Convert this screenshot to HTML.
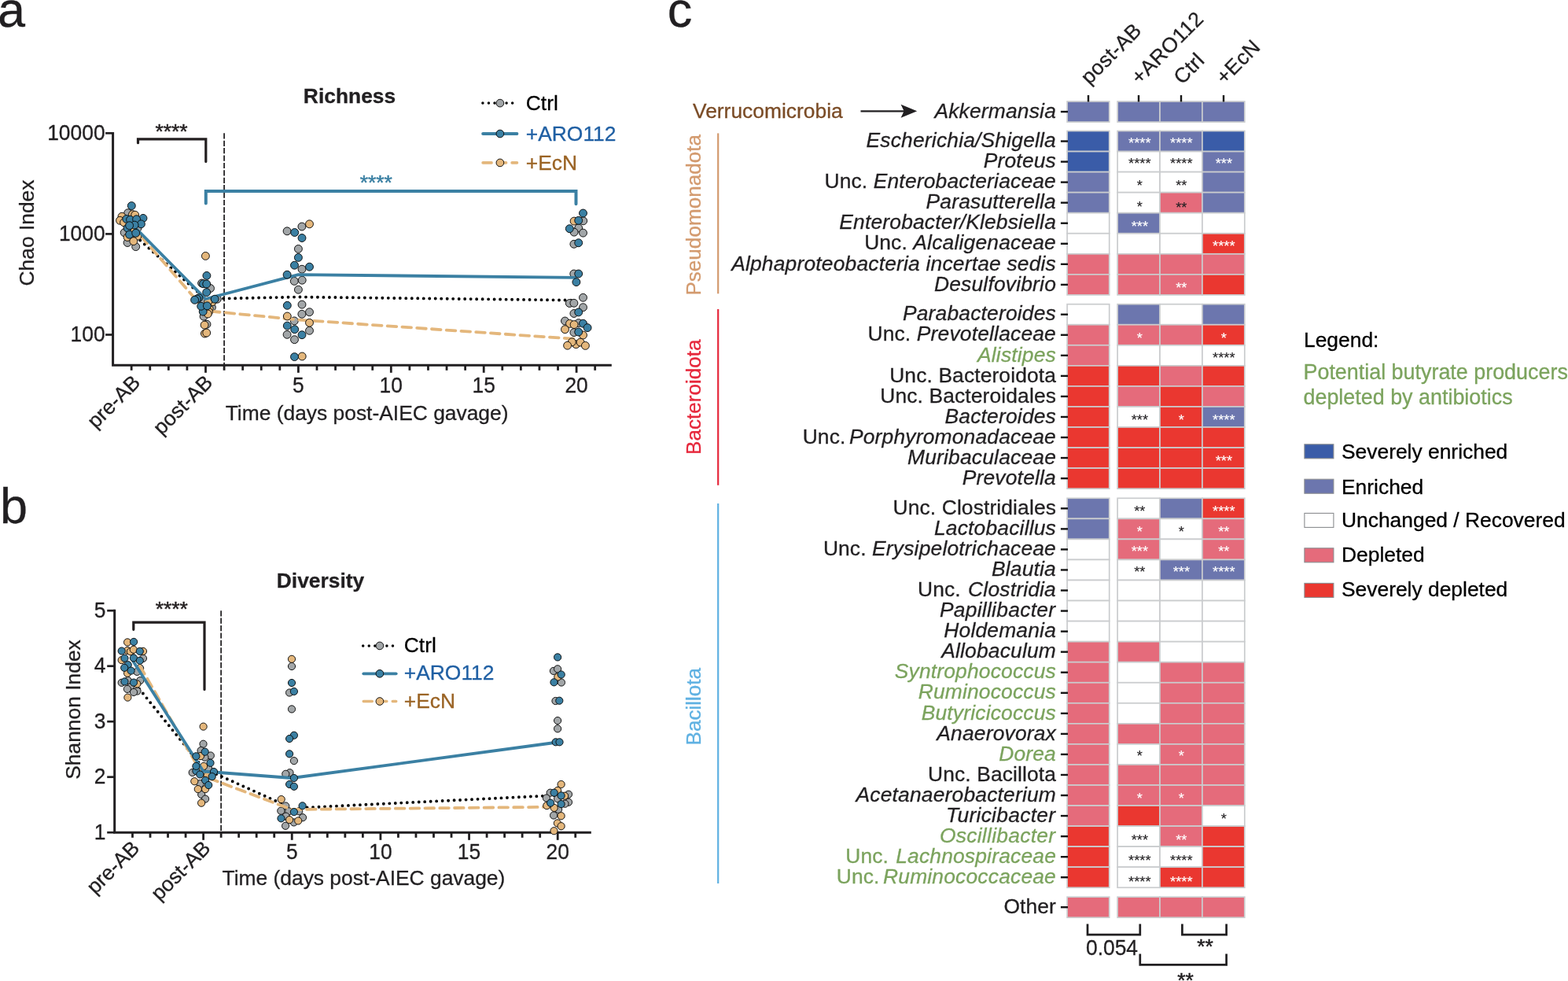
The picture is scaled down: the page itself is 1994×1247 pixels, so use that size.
<!DOCTYPE html>
<html lang="en">
<head>
<meta charset="utf-8">
<title>Figure: richness, diversity and taxa heatmap</title>
<style>
html,body{margin:0;padding:0;background:#fff;}
body{width:1994px;height:1247px;overflow:hidden;}
svg{display:block;font-family:"Liberation Sans",sans-serif;}
svg text{paint-order:stroke fill;}
svg text.t{stroke-width:0.3px;}
</style>
</head>
<body>
<svg width="1994" height="1247" viewBox="0 0 1994 1247" role="img" aria-label="Figure panels a, b and c">
<rect x="0" y="0" width="1994" height="1247" fill="#ffffff"/>
<text x="-3.00" y="33.50" font-size="63" fill="#211F21" class="t" stroke="#211F21">a</text>
<text x="0.00" y="665.00" font-size="63" fill="#211F21" class="t" stroke="#211F21">b</text>
<text x="848.70" y="33.50" font-size="63" fill="#211F21" class="t" stroke="#211F21">c</text>
<line x1="285.08" y1="169.30" x2="285.08" y2="464.20" stroke="#211F21" stroke-width="1.75" stroke-linecap="butt" stroke-dasharray="7.2 2.2"/>
<polyline points="143.60,167.90 143.60,464.20 777.80,464.20" fill="none" stroke="#211F21" stroke-width="3" stroke-linecap="butt" stroke-linejoin="miter"/>
<line x1="134.10" y1="169.30" x2="143.60" y2="169.30" stroke="#211F21" stroke-width="2.7" stroke-linecap="butt"/>
<text x="133.60" y="178.10" font-size="26.4" fill="#211F21" text-anchor="end" transform="matrix(1 0 0 1.055 0 -9.795)" class="t" stroke="#211F21">10000</text>
<line x1="134.10" y1="297.40" x2="143.60" y2="297.40" stroke="#211F21" stroke-width="2.7" stroke-linecap="butt"/>
<text x="133.60" y="306.20" font-size="26.4" fill="#211F21" text-anchor="end" transform="matrix(1 0 0 1.055 0 -16.841)" class="t" stroke="#211F21">1000</text>
<line x1="134.10" y1="425.50" x2="143.60" y2="425.50" stroke="#211F21" stroke-width="2.7" stroke-linecap="butt"/>
<text x="133.60" y="434.30" font-size="26.4" fill="#211F21" text-anchor="end" transform="matrix(1 0 0 1.055 0 -23.886)" class="t" stroke="#211F21">100</text>
<line x1="167.18" y1="464.20" x2="167.18" y2="470.80" stroke="#211F21" stroke-width="2.8" stroke-linecap="butt"/>
<line x1="190.76" y1="464.20" x2="190.76" y2="470.80" stroke="#211F21" stroke-width="2.8" stroke-linecap="butt"/>
<line x1="214.34" y1="464.20" x2="214.34" y2="470.80" stroke="#211F21" stroke-width="2.8" stroke-linecap="butt"/>
<line x1="237.92" y1="464.20" x2="237.92" y2="470.80" stroke="#211F21" stroke-width="2.8" stroke-linecap="butt"/>
<line x1="261.50" y1="464.20" x2="261.50" y2="473.80" stroke="#211F21" stroke-width="2.8" stroke-linecap="butt"/>
<line x1="285.08" y1="464.20" x2="285.08" y2="470.80" stroke="#211F21" stroke-width="2.8" stroke-linecap="butt"/>
<line x1="308.66" y1="464.20" x2="308.66" y2="470.80" stroke="#211F21" stroke-width="2.8" stroke-linecap="butt"/>
<line x1="332.24" y1="464.20" x2="332.24" y2="470.80" stroke="#211F21" stroke-width="2.8" stroke-linecap="butt"/>
<line x1="355.82" y1="464.20" x2="355.82" y2="470.80" stroke="#211F21" stroke-width="2.8" stroke-linecap="butt"/>
<line x1="379.40" y1="464.20" x2="379.40" y2="473.80" stroke="#211F21" stroke-width="2.8" stroke-linecap="butt"/>
<line x1="402.98" y1="464.20" x2="402.98" y2="470.80" stroke="#211F21" stroke-width="2.8" stroke-linecap="butt"/>
<line x1="426.56" y1="464.20" x2="426.56" y2="470.80" stroke="#211F21" stroke-width="2.8" stroke-linecap="butt"/>
<line x1="450.14" y1="464.20" x2="450.14" y2="470.80" stroke="#211F21" stroke-width="2.8" stroke-linecap="butt"/>
<line x1="473.72" y1="464.20" x2="473.72" y2="470.80" stroke="#211F21" stroke-width="2.8" stroke-linecap="butt"/>
<line x1="497.30" y1="464.20" x2="497.30" y2="473.80" stroke="#211F21" stroke-width="2.8" stroke-linecap="butt"/>
<line x1="520.88" y1="464.20" x2="520.88" y2="470.80" stroke="#211F21" stroke-width="2.8" stroke-linecap="butt"/>
<line x1="544.46" y1="464.20" x2="544.46" y2="470.80" stroke="#211F21" stroke-width="2.8" stroke-linecap="butt"/>
<line x1="568.04" y1="464.20" x2="568.04" y2="470.80" stroke="#211F21" stroke-width="2.8" stroke-linecap="butt"/>
<line x1="591.62" y1="464.20" x2="591.62" y2="470.80" stroke="#211F21" stroke-width="2.8" stroke-linecap="butt"/>
<line x1="615.20" y1="464.20" x2="615.20" y2="473.80" stroke="#211F21" stroke-width="2.8" stroke-linecap="butt"/>
<line x1="638.78" y1="464.20" x2="638.78" y2="470.80" stroke="#211F21" stroke-width="2.8" stroke-linecap="butt"/>
<line x1="662.36" y1="464.20" x2="662.36" y2="470.80" stroke="#211F21" stroke-width="2.8" stroke-linecap="butt"/>
<line x1="685.94" y1="464.20" x2="685.94" y2="470.80" stroke="#211F21" stroke-width="2.8" stroke-linecap="butt"/>
<line x1="709.52" y1="464.20" x2="709.52" y2="470.80" stroke="#211F21" stroke-width="2.8" stroke-linecap="butt"/>
<line x1="733.10" y1="464.20" x2="733.10" y2="473.80" stroke="#211F21" stroke-width="2.8" stroke-linecap="butt"/>
<line x1="756.68" y1="464.20" x2="756.68" y2="470.80" stroke="#211F21" stroke-width="2.8" stroke-linecap="butt"/>
<text x="379.40" y="498.90" font-size="26.4" fill="#211F21" text-anchor="middle" transform="matrix(1 0 0 1.03 0 -14.967)" class="t" stroke="#211F21">5</text>
<text x="497.30" y="498.90" font-size="26.4" fill="#211F21" text-anchor="middle" transform="matrix(1 0 0 1.03 0 -14.967)" class="t" stroke="#211F21">10</text>
<text x="615.20" y="498.90" font-size="26.4" fill="#211F21" text-anchor="middle" transform="matrix(1 0 0 1.03 0 -14.967)" class="t" stroke="#211F21">15</text>
<text x="733.10" y="498.90" font-size="26.4" fill="#211F21" text-anchor="middle" transform="matrix(1 0 0 1.03 0 -14.967)" class="t" stroke="#211F21">20</text>
<text x="179.88" y="487.70" font-size="26.4" fill="#211F21" text-anchor="end" transform="rotate(-45 179.88 487.70)" class="t" stroke="#211F21">pre-AB</text>
<text x="272.00" y="487.70" font-size="26.4" fill="#211F21" text-anchor="end" transform="rotate(-45 272.00 487.70)" class="t" stroke="#211F21">post-AB</text>
<text x="286.70" y="534.00" font-size="26.4" fill="#211F21" class="t" stroke="#211F21">Time (days post-AIEC gavage)</text>
<text x="43.30" y="296.00" font-size="26.4" fill="#211F21" text-anchor="middle" transform="rotate(-90 43.30 296.00)" class="t" stroke="#211F21">Chao Index</text>
<text x="444.50" y="131.00" font-size="26.4" fill="#211F21" text-anchor="middle" font-weight="bold" class="t" stroke="#211F21">Richness</text>
<line x1="167.20" y1="295.60" x2="261.50" y2="380.00" stroke="#000" stroke-width="3.9" stroke-linecap="round" stroke-dasharray="0 7.49" stroke-dashoffset="-7.35"/>
<line x1="261.50" y1="380.00" x2="379.40" y2="377.50" stroke="#000" stroke-width="3.9" stroke-linecap="round" stroke-dasharray="0 7.49" stroke-dashoffset="-0.21"/>
<line x1="379.40" y1="377.50" x2="733.10" y2="381.70" stroke="#000" stroke-width="3.9" stroke-linecap="round" stroke-dasharray="0 7.49" stroke-dashoffset="-2.06"/>
<circle cx="162.7" cy="270.7" r="4.95" fill="#A2A6A8" stroke="#0a0a0a" stroke-width="0.95"/>
<circle cx="158.2" cy="295.7" r="4.95" fill="#A2A6A8" stroke="#0a0a0a" stroke-width="0.95"/>
<circle cx="162.1" cy="308.5" r="4.95" fill="#A2A6A8" stroke="#0a0a0a" stroke-width="0.95"/>
<circle cx="172.7" cy="313.6" r="4.95" fill="#A2A6A8" stroke="#0a0a0a" stroke-width="0.95"/>
<circle cx="168.0" cy="300.0" r="4.95" fill="#A2A6A8" stroke="#0a0a0a" stroke-width="0.95"/>
<circle cx="175.0" cy="290.0" r="4.95" fill="#A2A6A8" stroke="#0a0a0a" stroke-width="0.95"/>
<circle cx="256.6" cy="360.0" r="4.95" fill="#A2A6A8" stroke="#0a0a0a" stroke-width="0.95"/>
<circle cx="267.5" cy="366.5" r="4.95" fill="#A2A6A8" stroke="#0a0a0a" stroke-width="0.95"/>
<circle cx="276.3" cy="380.2" r="4.95" fill="#A2A6A8" stroke="#0a0a0a" stroke-width="0.95"/>
<circle cx="258.5" cy="382.4" r="4.95" fill="#A2A6A8" stroke="#0a0a0a" stroke-width="0.95"/>
<circle cx="269.4" cy="390.7" r="4.95" fill="#A2A6A8" stroke="#0a0a0a" stroke-width="0.95"/>
<circle cx="259.1" cy="402.2" r="4.95" fill="#A2A6A8" stroke="#0a0a0a" stroke-width="0.95"/>
<circle cx="263.0" cy="412.2" r="4.95" fill="#A2A6A8" stroke="#0a0a0a" stroke-width="0.95"/>
<circle cx="383.9" cy="288.0" r="4.95" fill="#A2A6A8" stroke="#0a0a0a" stroke-width="0.95"/>
<circle cx="365.1" cy="293.8" r="4.95" fill="#A2A6A8" stroke="#0a0a0a" stroke-width="0.95"/>
<circle cx="379.4" cy="316.4" r="4.95" fill="#A2A6A8" stroke="#0a0a0a" stroke-width="0.95"/>
<circle cx="384.0" cy="342.2" r="4.95" fill="#A2A6A8" stroke="#0a0a0a" stroke-width="0.95"/>
<circle cx="374.3" cy="357.4" r="4.95" fill="#A2A6A8" stroke="#0a0a0a" stroke-width="0.95"/>
<circle cx="384.2" cy="356.2" r="4.95" fill="#A2A6A8" stroke="#0a0a0a" stroke-width="0.95"/>
<circle cx="379.4" cy="368.2" r="4.95" fill="#A2A6A8" stroke="#0a0a0a" stroke-width="0.95"/>
<circle cx="384.0" cy="387.1" r="4.95" fill="#A2A6A8" stroke="#0a0a0a" stroke-width="0.95"/>
<circle cx="393.5" cy="396.7" r="4.95" fill="#A2A6A8" stroke="#0a0a0a" stroke-width="0.95"/>
<circle cx="383.9" cy="399.3" r="4.95" fill="#A2A6A8" stroke="#0a0a0a" stroke-width="0.95"/>
<circle cx="374.3" cy="407.9" r="4.95" fill="#A2A6A8" stroke="#0a0a0a" stroke-width="0.95"/>
<circle cx="393.5" cy="420.3" r="4.95" fill="#A2A6A8" stroke="#0a0a0a" stroke-width="0.95"/>
<circle cx="365.1" cy="425.3" r="4.95" fill="#A2A6A8" stroke="#0a0a0a" stroke-width="0.95"/>
<circle cx="374.5" cy="431.7" r="4.95" fill="#A2A6A8" stroke="#0a0a0a" stroke-width="0.95"/>
<circle cx="741.7" cy="280.8" r="4.95" fill="#A2A6A8" stroke="#0a0a0a" stroke-width="0.95"/>
<circle cx="735.7" cy="289.9" r="4.95" fill="#A2A6A8" stroke="#0a0a0a" stroke-width="0.95"/>
<circle cx="730.1" cy="295.1" r="4.95" fill="#A2A6A8" stroke="#0a0a0a" stroke-width="0.95"/>
<circle cx="741.5" cy="296.1" r="4.95" fill="#A2A6A8" stroke="#0a0a0a" stroke-width="0.95"/>
<circle cx="729.9" cy="310.3" r="4.95" fill="#A2A6A8" stroke="#0a0a0a" stroke-width="0.95"/>
<circle cx="729.8" cy="348.0" r="4.95" fill="#A2A6A8" stroke="#0a0a0a" stroke-width="0.95"/>
<circle cx="741.5" cy="378.3" r="4.95" fill="#A2A6A8" stroke="#0a0a0a" stroke-width="0.95"/>
<circle cx="724.3" cy="385.5" r="4.95" fill="#A2A6A8" stroke="#0a0a0a" stroke-width="0.95"/>
<circle cx="729.9" cy="385.3" r="4.95" fill="#A2A6A8" stroke="#0a0a0a" stroke-width="0.95"/>
<circle cx="741.5" cy="390.7" r="4.95" fill="#A2A6A8" stroke="#0a0a0a" stroke-width="0.95"/>
<circle cx="729.9" cy="398.5" r="4.95" fill="#A2A6A8" stroke="#0a0a0a" stroke-width="0.95"/>
<circle cx="718.5" cy="408.0" r="4.95" fill="#A2A6A8" stroke="#0a0a0a" stroke-width="0.95"/>
<circle cx="735.7" cy="410.6" r="4.95" fill="#A2A6A8" stroke="#0a0a0a" stroke-width="0.95"/>
<circle cx="729.9" cy="422.6" r="4.95" fill="#A2A6A8" stroke="#0a0a0a" stroke-width="0.95"/>
<polyline points="167.20,286.20 261.50,395.00 379.40,406.50 733.10,431.00" fill="none" stroke="#E4B77C" stroke-width="3.8" stroke-linecap="round" stroke-linejoin="round" stroke-dasharray="11.6 7.2"/>
<circle cx="168.5" cy="272.6" r="4.95" fill="#E4B77C" stroke="#0a0a0a" stroke-width="0.95"/>
<circle cx="171.7" cy="273.2" r="4.95" fill="#E4B77C" stroke="#0a0a0a" stroke-width="0.95"/>
<circle cx="155.0" cy="275.2" r="4.95" fill="#E4B77C" stroke="#0a0a0a" stroke-width="0.95"/>
<circle cx="152.5" cy="280.3" r="4.95" fill="#E4B77C" stroke="#0a0a0a" stroke-width="0.95"/>
<circle cx="157.6" cy="282.8" r="4.95" fill="#E4B77C" stroke="#0a0a0a" stroke-width="0.95"/>
<circle cx="169.5" cy="292.8" r="4.95" fill="#E4B77C" stroke="#0a0a0a" stroke-width="0.95"/>
<circle cx="162.1" cy="301.5" r="4.95" fill="#E4B77C" stroke="#0a0a0a" stroke-width="0.95"/>
<circle cx="174.9" cy="300.2" r="4.95" fill="#E4B77C" stroke="#0a0a0a" stroke-width="0.95"/>
<circle cx="169.8" cy="306.6" r="4.95" fill="#E4B77C" stroke="#0a0a0a" stroke-width="0.95"/>
<circle cx="261.4" cy="325.4" r="4.95" fill="#E4B77C" stroke="#0a0a0a" stroke-width="0.95"/>
<circle cx="270.0" cy="383.8" r="4.95" fill="#E4B77C" stroke="#0a0a0a" stroke-width="0.95"/>
<circle cx="264.6" cy="383.7" r="4.95" fill="#E4B77C" stroke="#0a0a0a" stroke-width="0.95"/>
<circle cx="266.2" cy="392.6" r="4.95" fill="#E4B77C" stroke="#0a0a0a" stroke-width="0.95"/>
<circle cx="265.5" cy="396.4" r="4.95" fill="#E4B77C" stroke="#0a0a0a" stroke-width="0.95"/>
<circle cx="264.3" cy="399.0" r="4.95" fill="#E4B77C" stroke="#0a0a0a" stroke-width="0.95"/>
<circle cx="260.1" cy="413.1" r="4.95" fill="#E4B77C" stroke="#0a0a0a" stroke-width="0.95"/>
<circle cx="260.4" cy="424.0" r="4.95" fill="#E4B77C" stroke="#0a0a0a" stroke-width="0.95"/>
<circle cx="262.7" cy="423.1" r="4.95" fill="#E4B77C" stroke="#0a0a0a" stroke-width="0.95"/>
<circle cx="393.5" cy="284.8" r="4.95" fill="#E4B77C" stroke="#0a0a0a" stroke-width="0.95"/>
<circle cx="365.3" cy="402.0" r="4.95" fill="#E4B77C" stroke="#0a0a0a" stroke-width="0.95"/>
<circle cx="393.5" cy="410.3" r="4.95" fill="#E4B77C" stroke="#0a0a0a" stroke-width="0.95"/>
<circle cx="384.2" cy="453.0" r="4.95" fill="#E4B77C" stroke="#0a0a0a" stroke-width="0.95"/>
<circle cx="730.1" cy="281.1" r="4.95" fill="#E4B77C" stroke="#0a0a0a" stroke-width="0.95"/>
<circle cx="724.5" cy="411.4" r="4.95" fill="#E4B77C" stroke="#0a0a0a" stroke-width="0.95"/>
<circle cx="730.1" cy="412.6" r="4.95" fill="#E4B77C" stroke="#0a0a0a" stroke-width="0.95"/>
<circle cx="718.5" cy="418.7" r="4.95" fill="#E4B77C" stroke="#0a0a0a" stroke-width="0.95"/>
<circle cx="741.5" cy="426.0" r="4.95" fill="#E4B77C" stroke="#0a0a0a" stroke-width="0.95"/>
<circle cx="732.5" cy="437.7" r="4.95" fill="#E4B77C" stroke="#0a0a0a" stroke-width="0.95"/>
<circle cx="727.3" cy="434.8" r="4.95" fill="#E4B77C" stroke="#0a0a0a" stroke-width="0.95"/>
<circle cx="738.1" cy="435.1" r="4.95" fill="#E4B77C" stroke="#0a0a0a" stroke-width="0.95"/>
<circle cx="721.6" cy="439.2" r="4.95" fill="#E4B77C" stroke="#0a0a0a" stroke-width="0.95"/>
<circle cx="744.4" cy="439.4" r="4.95" fill="#E4B77C" stroke="#0a0a0a" stroke-width="0.95"/>
<polyline points="167.20,284.50 261.50,380.00 379.40,349.10 733.10,352.90" fill="none" stroke="#3B80A3" stroke-width="3.8" stroke-linecap="butt" stroke-linejoin="round"/>
<circle cx="167.3" cy="261.6" r="4.95" fill="#3B80A3" stroke="#0a0a0a" stroke-width="0.95"/>
<circle cx="182.0" cy="277.4" r="4.95" fill="#3B80A3" stroke="#0a0a0a" stroke-width="0.95"/>
<circle cx="160.8" cy="278.4" r="4.95" fill="#3B80A3" stroke="#0a0a0a" stroke-width="0.95"/>
<circle cx="165.6" cy="279.3" r="4.95" fill="#3B80A3" stroke="#0a0a0a" stroke-width="0.95"/>
<circle cx="173.6" cy="278.7" r="4.95" fill="#3B80A3" stroke="#0a0a0a" stroke-width="0.95"/>
<circle cx="179.4" cy="284.8" r="4.95" fill="#3B80A3" stroke="#0a0a0a" stroke-width="0.95"/>
<circle cx="162.1" cy="289.9" r="4.95" fill="#3B80A3" stroke="#0a0a0a" stroke-width="0.95"/>
<circle cx="171.1" cy="286.1" r="4.95" fill="#3B80A3" stroke="#0a0a0a" stroke-width="0.95"/>
<circle cx="164.6" cy="286.7" r="4.95" fill="#3B80A3" stroke="#0a0a0a" stroke-width="0.95"/>
<circle cx="164.6" cy="298.2" r="4.95" fill="#3B80A3" stroke="#0a0a0a" stroke-width="0.95"/>
<circle cx="172.7" cy="296.3" r="4.95" fill="#3B80A3" stroke="#0a0a0a" stroke-width="0.95"/>
<circle cx="262.9" cy="350.4" r="4.95" fill="#3B80A3" stroke="#0a0a0a" stroke-width="0.95"/>
<circle cx="258.5" cy="360.7" r="4.95" fill="#3B80A3" stroke="#0a0a0a" stroke-width="0.95"/>
<circle cx="262.7" cy="361.0" r="4.95" fill="#3B80A3" stroke="#0a0a0a" stroke-width="0.95"/>
<circle cx="262.7" cy="371.6" r="4.95" fill="#3B80A3" stroke="#0a0a0a" stroke-width="0.95"/>
<circle cx="252.9" cy="378.7" r="4.95" fill="#3B80A3" stroke="#0a0a0a" stroke-width="0.95"/>
<circle cx="250.5" cy="380.0" r="4.95" fill="#3B80A3" stroke="#0a0a0a" stroke-width="0.95"/>
<circle cx="247.6" cy="381.3" r="4.95" fill="#3B80A3" stroke="#0a0a0a" stroke-width="0.95"/>
<circle cx="273.2" cy="380.2" r="4.95" fill="#3B80A3" stroke="#0a0a0a" stroke-width="0.95"/>
<circle cx="258.2" cy="396.1" r="4.95" fill="#3B80A3" stroke="#0a0a0a" stroke-width="0.95"/>
<circle cx="255.7" cy="389.3" r="4.95" fill="#3B80A3" stroke="#0a0a0a" stroke-width="0.95"/>
<circle cx="263.4" cy="388.8" r="4.95" fill="#3B80A3" stroke="#0a0a0a" stroke-width="0.95"/>
<circle cx="374.7" cy="295.5" r="4.95" fill="#3B80A3" stroke="#0a0a0a" stroke-width="0.95"/>
<circle cx="384.0" cy="302.5" r="4.95" fill="#3B80A3" stroke="#0a0a0a" stroke-width="0.95"/>
<circle cx="379.4" cy="327.4" r="4.95" fill="#3B80A3" stroke="#0a0a0a" stroke-width="0.95"/>
<circle cx="374.5" cy="337.2" r="4.95" fill="#3B80A3" stroke="#0a0a0a" stroke-width="0.95"/>
<circle cx="393.5" cy="339.2" r="4.95" fill="#3B80A3" stroke="#0a0a0a" stroke-width="0.95"/>
<circle cx="365.1" cy="349.2" r="4.95" fill="#3B80A3" stroke="#0a0a0a" stroke-width="0.95"/>
<circle cx="365.3" cy="388.3" r="4.95" fill="#3B80A3" stroke="#0a0a0a" stroke-width="0.95"/>
<circle cx="365.3" cy="414.1" r="4.95" fill="#3B80A3" stroke="#0a0a0a" stroke-width="0.95"/>
<circle cx="374.7" cy="418.7" r="4.95" fill="#3B80A3" stroke="#0a0a0a" stroke-width="0.95"/>
<circle cx="384.0" cy="425.7" r="4.95" fill="#3B80A3" stroke="#0a0a0a" stroke-width="0.95"/>
<circle cx="374.5" cy="453.6" r="4.95" fill="#3B80A3" stroke="#0a0a0a" stroke-width="0.95"/>
<circle cx="741.5" cy="271.0" r="4.95" fill="#3B80A3" stroke="#0a0a0a" stroke-width="0.95"/>
<circle cx="735.7" cy="280.3" r="4.95" fill="#3B80A3" stroke="#0a0a0a" stroke-width="0.95"/>
<circle cx="724.3" cy="290.7" r="4.95" fill="#3B80A3" stroke="#0a0a0a" stroke-width="0.95"/>
<circle cx="735.7" cy="308.7" r="4.95" fill="#3B80A3" stroke="#0a0a0a" stroke-width="0.95"/>
<circle cx="735.7" cy="348.0" r="4.95" fill="#3B80A3" stroke="#0a0a0a" stroke-width="0.95"/>
<circle cx="732.9" cy="358.6" r="4.95" fill="#3B80A3" stroke="#0a0a0a" stroke-width="0.95"/>
<circle cx="735.7" cy="396.9" r="4.95" fill="#3B80A3" stroke="#0a0a0a" stroke-width="0.95"/>
<circle cx="741.5" cy="411.2" r="4.95" fill="#3B80A3" stroke="#0a0a0a" stroke-width="0.95"/>
<circle cx="747.1" cy="416.6" r="4.95" fill="#3B80A3" stroke="#0a0a0a" stroke-width="0.95"/>
<circle cx="735.7" cy="422.0" r="4.95" fill="#3B80A3" stroke="#0a0a0a" stroke-width="0.95"/>
<polyline points="175.50,181.70 175.50,176.90 261.80,176.90 261.80,205.40" fill="none" stroke="#231F20" stroke-width="3.2" stroke-linecap="round" stroke-linejoin="miter"/>
<text x="218.00" y="176.00" font-size="26.4" fill="#231F20" text-anchor="middle" stroke="#231F20" stroke-width="0.5">****</text>
<polyline points="261.80,258.40 261.80,242.90 732.50,242.90 732.50,259.30" fill="none" stroke="#3B80A3" stroke-width="4.0" stroke-linecap="round" stroke-linejoin="miter"/>
<text x="478.20" y="240.90" font-size="26.4" fill="#3B80A3" text-anchor="middle" stroke="#3B80A3" stroke-width="0.5">****</text>
<line x1="613.90" y1="131.10" x2="651.70" y2="131.10" stroke="#000" stroke-width="3.5" stroke-linecap="round" stroke-dasharray="0 7.55"/>
<circle cx="635.9" cy="131.1" r="4.85" fill="#A2A6A8" stroke="#0a0a0a" stroke-width="0.95"/>
<text x="668.80" y="139.60" font-size="26.4" fill="#000" class="t" stroke="#000">Ctrl</text>
<line x1="614.10" y1="170.00" x2="657.50" y2="170.00" stroke="#3B80A3" stroke-width="3.8" stroke-linecap="round"/>
<circle cx="635.9" cy="170.0" r="4.85" fill="#3B80A3" stroke="#0a0a0a" stroke-width="0.95"/>
<text x="668.80" y="179.00" font-size="26.4" fill="#1F5FA3" class="t" stroke="#1F5FA3">+ARO112</text>
<line x1="614.10" y1="206.90" x2="657.50" y2="206.90" stroke="#E4B77C" stroke-width="3.6" stroke-linecap="round" stroke-dasharray="11 7.5"/>
<circle cx="635.9" cy="206.9" r="4.85" fill="#E4B77C" stroke="#0a0a0a" stroke-width="0.95"/>
<text x="668.80" y="215.70" font-size="26.4" fill="#9A6324" class="t" stroke="#9A6324">+EcN</text>
<line x1="281.13" y1="776.20" x2="281.13" y2="1058.20" stroke="#211F21" stroke-width="1.75" stroke-linecap="butt" stroke-dasharray="7.2 2.2"/>
<polyline points="145.70,774.80 145.70,1058.20 751.80,1058.20" fill="none" stroke="#211F21" stroke-width="3" stroke-linecap="butt" stroke-linejoin="miter"/>
<line x1="136.20" y1="776.20" x2="145.70" y2="776.20" stroke="#211F21" stroke-width="2.7" stroke-linecap="butt"/>
<text x="134.40" y="785.00" font-size="26.4" fill="#211F21" text-anchor="end" transform="matrix(1 0 0 1.055 0 -43.175)" class="t" stroke="#211F21">5</text>
<line x1="136.20" y1="846.70" x2="145.70" y2="846.70" stroke="#211F21" stroke-width="2.7" stroke-linecap="butt"/>
<text x="134.40" y="855.50" font-size="26.4" fill="#211F21" text-anchor="end" transform="matrix(1 0 0 1.055 0 -47.052)" class="t" stroke="#211F21">4</text>
<line x1="136.20" y1="917.20" x2="145.70" y2="917.20" stroke="#211F21" stroke-width="2.7" stroke-linecap="butt"/>
<text x="134.40" y="926.00" font-size="26.4" fill="#211F21" text-anchor="end" transform="matrix(1 0 0 1.055 0 -50.930)" class="t" stroke="#211F21">3</text>
<line x1="136.20" y1="987.70" x2="145.70" y2="987.70" stroke="#211F21" stroke-width="2.7" stroke-linecap="butt"/>
<text x="134.40" y="996.50" font-size="26.4" fill="#211F21" text-anchor="end" transform="matrix(1 0 0 1.055 0 -54.807)" class="t" stroke="#211F21">2</text>
<line x1="136.20" y1="1058.20" x2="145.70" y2="1058.20" stroke="#211F21" stroke-width="2.7" stroke-linecap="butt"/>
<text x="134.40" y="1067.00" font-size="26.4" fill="#211F21" text-anchor="end" transform="matrix(1 0 0 1.055 0 -58.685)" class="t" stroke="#211F21">1</text>
<line x1="168.48" y1="1058.20" x2="168.48" y2="1064.80" stroke="#211F21" stroke-width="2.8" stroke-linecap="butt"/>
<line x1="191.01" y1="1058.20" x2="191.01" y2="1064.80" stroke="#211F21" stroke-width="2.8" stroke-linecap="butt"/>
<line x1="213.54" y1="1058.20" x2="213.54" y2="1064.80" stroke="#211F21" stroke-width="2.8" stroke-linecap="butt"/>
<line x1="236.07" y1="1058.20" x2="236.07" y2="1064.80" stroke="#211F21" stroke-width="2.8" stroke-linecap="butt"/>
<line x1="258.60" y1="1058.20" x2="258.60" y2="1067.80" stroke="#211F21" stroke-width="2.8" stroke-linecap="butt"/>
<line x1="281.13" y1="1058.20" x2="281.13" y2="1064.80" stroke="#211F21" stroke-width="2.8" stroke-linecap="butt"/>
<line x1="303.66" y1="1058.20" x2="303.66" y2="1064.80" stroke="#211F21" stroke-width="2.8" stroke-linecap="butt"/>
<line x1="326.19" y1="1058.20" x2="326.19" y2="1064.80" stroke="#211F21" stroke-width="2.8" stroke-linecap="butt"/>
<line x1="348.72" y1="1058.20" x2="348.72" y2="1064.80" stroke="#211F21" stroke-width="2.8" stroke-linecap="butt"/>
<line x1="371.25" y1="1058.20" x2="371.25" y2="1067.80" stroke="#211F21" stroke-width="2.8" stroke-linecap="butt"/>
<line x1="393.78" y1="1058.20" x2="393.78" y2="1064.80" stroke="#211F21" stroke-width="2.8" stroke-linecap="butt"/>
<line x1="416.31" y1="1058.20" x2="416.31" y2="1064.80" stroke="#211F21" stroke-width="2.8" stroke-linecap="butt"/>
<line x1="438.84" y1="1058.20" x2="438.84" y2="1064.80" stroke="#211F21" stroke-width="2.8" stroke-linecap="butt"/>
<line x1="461.37" y1="1058.20" x2="461.37" y2="1064.80" stroke="#211F21" stroke-width="2.8" stroke-linecap="butt"/>
<line x1="483.90" y1="1058.20" x2="483.90" y2="1067.80" stroke="#211F21" stroke-width="2.8" stroke-linecap="butt"/>
<line x1="506.43" y1="1058.20" x2="506.43" y2="1064.80" stroke="#211F21" stroke-width="2.8" stroke-linecap="butt"/>
<line x1="528.96" y1="1058.20" x2="528.96" y2="1064.80" stroke="#211F21" stroke-width="2.8" stroke-linecap="butt"/>
<line x1="551.49" y1="1058.20" x2="551.49" y2="1064.80" stroke="#211F21" stroke-width="2.8" stroke-linecap="butt"/>
<line x1="574.02" y1="1058.20" x2="574.02" y2="1064.80" stroke="#211F21" stroke-width="2.8" stroke-linecap="butt"/>
<line x1="596.55" y1="1058.20" x2="596.55" y2="1067.80" stroke="#211F21" stroke-width="2.8" stroke-linecap="butt"/>
<line x1="619.08" y1="1058.20" x2="619.08" y2="1064.80" stroke="#211F21" stroke-width="2.8" stroke-linecap="butt"/>
<line x1="641.61" y1="1058.20" x2="641.61" y2="1064.80" stroke="#211F21" stroke-width="2.8" stroke-linecap="butt"/>
<line x1="664.14" y1="1058.20" x2="664.14" y2="1064.80" stroke="#211F21" stroke-width="2.8" stroke-linecap="butt"/>
<line x1="686.67" y1="1058.20" x2="686.67" y2="1064.80" stroke="#211F21" stroke-width="2.8" stroke-linecap="butt"/>
<line x1="709.20" y1="1058.20" x2="709.20" y2="1067.80" stroke="#211F21" stroke-width="2.8" stroke-linecap="butt"/>
<line x1="731.73" y1="1058.20" x2="731.73" y2="1064.80" stroke="#211F21" stroke-width="2.8" stroke-linecap="butt"/>
<text x="371.25" y="1091.90" font-size="26.4" fill="#211F21" text-anchor="middle" transform="matrix(1 0 0 1.03 0 -32.757)" class="t" stroke="#211F21">5</text>
<text x="483.90" y="1091.90" font-size="26.4" fill="#211F21" text-anchor="middle" transform="matrix(1 0 0 1.03 0 -32.757)" class="t" stroke="#211F21">10</text>
<text x="596.55" y="1091.90" font-size="26.4" fill="#211F21" text-anchor="middle" transform="matrix(1 0 0 1.03 0 -32.757)" class="t" stroke="#211F21">15</text>
<text x="709.20" y="1091.90" font-size="26.4" fill="#211F21" text-anchor="middle" transform="matrix(1 0 0 1.03 0 -32.757)" class="t" stroke="#211F21">20</text>
<text x="178.98" y="1079.70" font-size="26.4" fill="#211F21" text-anchor="end" transform="rotate(-45 178.98 1079.70)" class="t" stroke="#211F21">pre-AB</text>
<text x="269.10" y="1079.70" font-size="26.4" fill="#211F21" text-anchor="end" transform="rotate(-45 269.10 1079.70)" class="t" stroke="#211F21">post-AB</text>
<text x="282.50" y="1125.00" font-size="26.4" fill="#211F21" class="t" stroke="#211F21">Time (days post-AIEC gavage)</text>
<text x="102.00" y="902.00" font-size="26.4" fill="#211F21" text-anchor="middle" transform="rotate(-90 102.00 902.00)" class="t" stroke="#211F21">Shannon Index</text>
<text x="407.50" y="747.00" font-size="26.4" fill="#211F21" text-anchor="middle" font-weight="bold" class="t" stroke="#211F21">Diversity</text>
<line x1="168.50" y1="865.00" x2="258.60" y2="976.50" stroke="#000" stroke-width="3.9" stroke-linecap="round" stroke-dasharray="0 7.49" stroke-dashoffset="-6.26"/>
<line x1="258.60" y1="976.50" x2="367.56" y2="1025.75" stroke="#000" stroke-width="3.9" stroke-linecap="round" stroke-dasharray="0 7.49" stroke-dashoffset="-3.25"/>
<line x1="379.19" y1="1027.01" x2="709.10" y2="1010.90" stroke="#000" stroke-width="3.9" stroke-linecap="round" stroke-dasharray="0 7.49" stroke-dashoffset="-3.90"/>
<circle cx="182.0" cy="836.9" r="4.6" fill="#A2A6A8" stroke="#0a0a0a" stroke-width="0.95"/>
<circle cx="178.1" cy="849.4" r="4.6" fill="#A2A6A8" stroke="#0a0a0a" stroke-width="0.95"/>
<circle cx="174.3" cy="853.9" r="4.6" fill="#A2A6A8" stroke="#0a0a0a" stroke-width="0.95"/>
<circle cx="154.7" cy="867.8" r="4.6" fill="#A2A6A8" stroke="#0a0a0a" stroke-width="0.95"/>
<circle cx="162.7" cy="865.0" r="4.6" fill="#A2A6A8" stroke="#0a0a0a" stroke-width="0.95"/>
<circle cx="178.2" cy="865.1" r="4.6" fill="#A2A6A8" stroke="#0a0a0a" stroke-width="0.95"/>
<circle cx="165.9" cy="873.3" r="4.6" fill="#A2A6A8" stroke="#0a0a0a" stroke-width="0.95"/>
<circle cx="161.9" cy="875.9" r="4.6" fill="#A2A6A8" stroke="#0a0a0a" stroke-width="0.95"/>
<circle cx="174.6" cy="878.5" r="4.6" fill="#A2A6A8" stroke="#0a0a0a" stroke-width="0.95"/>
<circle cx="170.0" cy="879.9" r="4.6" fill="#A2A6A8" stroke="#0a0a0a" stroke-width="0.95"/>
<circle cx="258.5" cy="945.7" r="4.6" fill="#A2A6A8" stroke="#0a0a0a" stroke-width="0.95"/>
<circle cx="255.6" cy="954.1" r="4.6" fill="#A2A6A8" stroke="#0a0a0a" stroke-width="0.95"/>
<circle cx="267.8" cy="960.5" r="4.6" fill="#A2A6A8" stroke="#0a0a0a" stroke-width="0.95"/>
<circle cx="260.4" cy="962.7" r="4.6" fill="#A2A6A8" stroke="#0a0a0a" stroke-width="0.95"/>
<circle cx="264.9" cy="976.2" r="4.6" fill="#A2A6A8" stroke="#0a0a0a" stroke-width="0.95"/>
<circle cx="244.7" cy="982.0" r="4.6" fill="#A2A6A8" stroke="#0a0a0a" stroke-width="0.95"/>
<circle cx="254.6" cy="996.0" r="4.6" fill="#A2A6A8" stroke="#0a0a0a" stroke-width="0.95"/>
<circle cx="256.2" cy="1010.0" r="4.6" fill="#A2A6A8" stroke="#0a0a0a" stroke-width="0.95"/>
<circle cx="261.1" cy="1015.6" r="4.6" fill="#A2A6A8" stroke="#0a0a0a" stroke-width="0.95"/>
<circle cx="371.0" cy="847.0" r="4.6" fill="#A2A6A8" stroke="#0a0a0a" stroke-width="0.95"/>
<circle cx="368.1" cy="880.5" r="4.6" fill="#A2A6A8" stroke="#0a0a0a" stroke-width="0.95"/>
<circle cx="371.0" cy="901.4" r="4.6" fill="#A2A6A8" stroke="#0a0a0a" stroke-width="0.95"/>
<circle cx="373.9" cy="967.1" r="4.6" fill="#A2A6A8" stroke="#0a0a0a" stroke-width="0.95"/>
<circle cx="368.5" cy="982.2" r="4.6" fill="#A2A6A8" stroke="#0a0a0a" stroke-width="0.95"/>
<circle cx="363.3" cy="983.8" r="4.6" fill="#A2A6A8" stroke="#0a0a0a" stroke-width="0.95"/>
<circle cx="363.3" cy="1024.5" r="4.6" fill="#A2A6A8" stroke="#0a0a0a" stroke-width="0.95"/>
<circle cx="357.3" cy="1030.7" r="4.6" fill="#A2A6A8" stroke="#0a0a0a" stroke-width="0.95"/>
<circle cx="367.3" cy="1031.3" r="4.6" fill="#A2A6A8" stroke="#0a0a0a" stroke-width="0.95"/>
<circle cx="380.1" cy="1031.3" r="4.6" fill="#A2A6A8" stroke="#0a0a0a" stroke-width="0.95"/>
<circle cx="363.7" cy="1037.7" r="4.6" fill="#A2A6A8" stroke="#0a0a0a" stroke-width="0.95"/>
<circle cx="385.0" cy="1039.2" r="4.6" fill="#A2A6A8" stroke="#0a0a0a" stroke-width="0.95"/>
<circle cx="373.7" cy="1045.4" r="4.6" fill="#A2A6A8" stroke="#0a0a0a" stroke-width="0.95"/>
<circle cx="363.1" cy="1049.8" r="4.6" fill="#A2A6A8" stroke="#0a0a0a" stroke-width="0.95"/>
<circle cx="703.9" cy="852.9" r="4.6" fill="#A2A6A8" stroke="#0a0a0a" stroke-width="0.95"/>
<circle cx="709.1" cy="850.3" r="4.6" fill="#A2A6A8" stroke="#0a0a0a" stroke-width="0.95"/>
<circle cx="713.9" cy="867.5" r="4.6" fill="#A2A6A8" stroke="#0a0a0a" stroke-width="0.95"/>
<circle cx="706.5" cy="891.0" r="4.6" fill="#A2A6A8" stroke="#0a0a0a" stroke-width="0.95"/>
<circle cx="709.1" cy="916.0" r="4.6" fill="#A2A6A8" stroke="#0a0a0a" stroke-width="0.95"/>
<circle cx="709.1" cy="926.3" r="4.6" fill="#A2A6A8" stroke="#0a0a0a" stroke-width="0.95"/>
<circle cx="699.7" cy="1007.7" r="4.6" fill="#A2A6A8" stroke="#0a0a0a" stroke-width="0.95"/>
<circle cx="723.0" cy="1009.7" r="4.6" fill="#A2A6A8" stroke="#0a0a0a" stroke-width="0.95"/>
<circle cx="694.9" cy="1014.5" r="4.6" fill="#A2A6A8" stroke="#0a0a0a" stroke-width="0.95"/>
<circle cx="709.1" cy="1015.3" r="4.6" fill="#A2A6A8" stroke="#0a0a0a" stroke-width="0.95"/>
<circle cx="723.0" cy="1019.7" r="4.6" fill="#A2A6A8" stroke="#0a0a0a" stroke-width="0.95"/>
<circle cx="718.5" cy="1021.7" r="4.6" fill="#A2A6A8" stroke="#0a0a0a" stroke-width="0.95"/>
<circle cx="710.1" cy="1028.9" r="4.6" fill="#A2A6A8" stroke="#0a0a0a" stroke-width="0.95"/>
<circle cx="704.1" cy="1036.5" r="4.6" fill="#A2A6A8" stroke="#0a0a0a" stroke-width="0.95"/>
<polyline points="168.50,830.20 258.60,986.50 371.20,1029.00 709.10,1025.70" fill="none" stroke="#E4B77C" stroke-width="3.8" stroke-linecap="round" stroke-linejoin="round" stroke-dasharray="11.6 7.2"/>
<circle cx="258.6" cy="923.6" r="4.6" fill="#E4B77C" stroke="#0a0a0a" stroke-width="0.95"/>
<circle cx="162.1" cy="816.4" r="4.6" fill="#E4B77C" stroke="#0a0a0a" stroke-width="0.95"/>
<circle cx="162.1" cy="826.9" r="4.6" fill="#E4B77C" stroke="#0a0a0a" stroke-width="0.95"/>
<circle cx="165.9" cy="828.2" r="4.6" fill="#E4B77C" stroke="#0a0a0a" stroke-width="0.95"/>
<circle cx="182.0" cy="827.9" r="4.6" fill="#E4B77C" stroke="#0a0a0a" stroke-width="0.95"/>
<circle cx="154.7" cy="839.1" r="4.6" fill="#E4B77C" stroke="#0a0a0a" stroke-width="0.95"/>
<circle cx="162.1" cy="855.8" r="4.6" fill="#E4B77C" stroke="#0a0a0a" stroke-width="0.95"/>
<circle cx="174.3" cy="869.4" r="4.6" fill="#E4B77C" stroke="#0a0a0a" stroke-width="0.95"/>
<circle cx="162.4" cy="886.6" r="4.6" fill="#E4B77C" stroke="#0a0a0a" stroke-width="0.95"/>
<circle cx="169.8" cy="825.7" r="4.6" fill="#E4B77C" stroke="#0a0a0a" stroke-width="0.95"/>
<circle cx="255.0" cy="961.1" r="4.6" fill="#E4B77C" stroke="#0a0a0a" stroke-width="0.95"/>
<circle cx="259.1" cy="973.9" r="4.6" fill="#E4B77C" stroke="#0a0a0a" stroke-width="0.95"/>
<circle cx="263.6" cy="985.8" r="4.6" fill="#E4B77C" stroke="#0a0a0a" stroke-width="0.95"/>
<circle cx="247.3" cy="993.2" r="4.6" fill="#E4B77C" stroke="#0a0a0a" stroke-width="0.95"/>
<circle cx="251.8" cy="1003.1" r="4.6" fill="#E4B77C" stroke="#0a0a0a" stroke-width="0.95"/>
<circle cx="261.1" cy="1003.1" r="4.6" fill="#E4B77C" stroke="#0a0a0a" stroke-width="0.95"/>
<circle cx="256.1" cy="1020.7" r="4.6" fill="#E4B77C" stroke="#0a0a0a" stroke-width="0.95"/>
<circle cx="371.0" cy="837.8" r="4.6" fill="#E4B77C" stroke="#0a0a0a" stroke-width="0.95"/>
<circle cx="357.7" cy="1016.1" r="4.6" fill="#E4B77C" stroke="#0a0a0a" stroke-width="0.95"/>
<circle cx="368.1" cy="1042.1" r="4.6" fill="#E4B77C" stroke="#0a0a0a" stroke-width="0.95"/>
<circle cx="379.2" cy="1043.4" r="4.6" fill="#E4B77C" stroke="#0a0a0a" stroke-width="0.95"/>
<circle cx="709.3" cy="860.5" r="4.6" fill="#E4B77C" stroke="#0a0a0a" stroke-width="0.95"/>
<circle cx="713.6" cy="997.0" r="4.6" fill="#E4B77C" stroke="#0a0a0a" stroke-width="0.95"/>
<circle cx="709.1" cy="1004.9" r="4.6" fill="#E4B77C" stroke="#0a0a0a" stroke-width="0.95"/>
<circle cx="718.1" cy="1011.7" r="4.6" fill="#E4B77C" stroke="#0a0a0a" stroke-width="0.95"/>
<circle cx="695.3" cy="1024.1" r="4.6" fill="#E4B77C" stroke="#0a0a0a" stroke-width="0.95"/>
<circle cx="704.7" cy="1026.9" r="4.6" fill="#E4B77C" stroke="#0a0a0a" stroke-width="0.95"/>
<circle cx="713.6" cy="1037.2" r="4.6" fill="#E4B77C" stroke="#0a0a0a" stroke-width="0.95"/>
<circle cx="708.9" cy="1046.4" r="4.6" fill="#E4B77C" stroke="#0a0a0a" stroke-width="0.95"/>
<circle cx="713.6" cy="1050.2" r="4.6" fill="#E4B77C" stroke="#0a0a0a" stroke-width="0.95"/>
<circle cx="704.5" cy="1056.2" r="4.6" fill="#E4B77C" stroke="#0a0a0a" stroke-width="0.95"/>
<polyline points="168.50,839.30 258.60,980.50 371.20,989.00 709.10,943.50" fill="none" stroke="#3B80A3" stroke-width="3.8" stroke-linecap="butt" stroke-linejoin="round"/>
<circle cx="170.1" cy="815.9" r="4.6" fill="#3B80A3" stroke="#0a0a0a" stroke-width="0.95"/>
<circle cx="154.7" cy="827.5" r="4.6" fill="#3B80A3" stroke="#0a0a0a" stroke-width="0.95"/>
<circle cx="177.8" cy="827.9" r="4.6" fill="#3B80A3" stroke="#0a0a0a" stroke-width="0.95"/>
<circle cx="158.5" cy="836.7" r="4.6" fill="#3B80A3" stroke="#0a0a0a" stroke-width="0.95"/>
<circle cx="169.9" cy="836.4" r="4.6" fill="#3B80A3" stroke="#0a0a0a" stroke-width="0.95"/>
<circle cx="177.8" cy="839.8" r="4.6" fill="#3B80A3" stroke="#0a0a0a" stroke-width="0.95"/>
<circle cx="162.7" cy="845.2" r="4.6" fill="#3B80A3" stroke="#0a0a0a" stroke-width="0.95"/>
<circle cx="158.2" cy="848.8" r="4.6" fill="#3B80A3" stroke="#0a0a0a" stroke-width="0.95"/>
<circle cx="166.6" cy="852.6" r="4.6" fill="#3B80A3" stroke="#0a0a0a" stroke-width="0.95"/>
<circle cx="158.5" cy="866.4" r="4.6" fill="#3B80A3" stroke="#0a0a0a" stroke-width="0.95"/>
<circle cx="170.0" cy="867.6" r="4.6" fill="#3B80A3" stroke="#0a0a0a" stroke-width="0.95"/>
<circle cx="260.7" cy="955.7" r="4.6" fill="#3B80A3" stroke="#0a0a0a" stroke-width="0.95"/>
<circle cx="249.4" cy="961.3" r="4.6" fill="#3B80A3" stroke="#0a0a0a" stroke-width="0.95"/>
<circle cx="267.5" cy="969.8" r="4.6" fill="#3B80A3" stroke="#0a0a0a" stroke-width="0.95"/>
<circle cx="249.4" cy="980.0" r="4.6" fill="#3B80A3" stroke="#0a0a0a" stroke-width="0.95"/>
<circle cx="249.4" cy="973.9" r="4.6" fill="#3B80A3" stroke="#0a0a0a" stroke-width="0.95"/>
<circle cx="272.0" cy="981.0" r="4.6" fill="#3B80A3" stroke="#0a0a0a" stroke-width="0.95"/>
<circle cx="254.3" cy="984.5" r="4.6" fill="#3B80A3" stroke="#0a0a0a" stroke-width="0.95"/>
<circle cx="269.7" cy="987.1" r="4.6" fill="#3B80A3" stroke="#0a0a0a" stroke-width="0.95"/>
<circle cx="261.1" cy="991.9" r="4.6" fill="#3B80A3" stroke="#0a0a0a" stroke-width="0.95"/>
<circle cx="265.2" cy="998.0" r="4.6" fill="#3B80A3" stroke="#0a0a0a" stroke-width="0.95"/>
<circle cx="371.0" cy="868.0" r="4.6" fill="#3B80A3" stroke="#0a0a0a" stroke-width="0.95"/>
<circle cx="373.9" cy="878.9" r="4.6" fill="#3B80A3" stroke="#0a0a0a" stroke-width="0.95"/>
<circle cx="373.9" cy="934.7" r="4.6" fill="#3B80A3" stroke="#0a0a0a" stroke-width="0.95"/>
<circle cx="368.1" cy="939.0" r="4.6" fill="#3B80A3" stroke="#0a0a0a" stroke-width="0.95"/>
<circle cx="368.1" cy="958.3" r="4.6" fill="#3B80A3" stroke="#0a0a0a" stroke-width="0.95"/>
<circle cx="373.9" cy="989.0" r="4.6" fill="#3B80A3" stroke="#0a0a0a" stroke-width="0.95"/>
<circle cx="368.1" cy="997.0" r="4.6" fill="#3B80A3" stroke="#0a0a0a" stroke-width="0.95"/>
<circle cx="373.9" cy="999.8" r="4.6" fill="#3B80A3" stroke="#0a0a0a" stroke-width="0.95"/>
<circle cx="384.6" cy="1024.3" r="4.6" fill="#3B80A3" stroke="#0a0a0a" stroke-width="0.95"/>
<circle cx="373.9" cy="1032.1" r="4.6" fill="#3B80A3" stroke="#0a0a0a" stroke-width="0.95"/>
<circle cx="357.5" cy="1040.3" r="4.6" fill="#3B80A3" stroke="#0a0a0a" stroke-width="0.95"/>
<circle cx="709.1" cy="835.4" r="4.6" fill="#3B80A3" stroke="#0a0a0a" stroke-width="0.95"/>
<circle cx="713.7" cy="857.5" r="4.6" fill="#3B80A3" stroke="#0a0a0a" stroke-width="0.95"/>
<circle cx="704.5" cy="867.3" r="4.6" fill="#3B80A3" stroke="#0a0a0a" stroke-width="0.95"/>
<circle cx="711.3" cy="890.7" r="4.6" fill="#3B80A3" stroke="#0a0a0a" stroke-width="0.95"/>
<circle cx="706.7" cy="943.3" r="4.6" fill="#3B80A3" stroke="#0a0a0a" stroke-width="0.95"/>
<circle cx="711.5" cy="943.3" r="4.6" fill="#3B80A3" stroke="#0a0a0a" stroke-width="0.95"/>
<circle cx="704.7" cy="1007.7" r="4.6" fill="#3B80A3" stroke="#0a0a0a" stroke-width="0.95"/>
<circle cx="713.6" cy="1011.4" r="4.6" fill="#3B80A3" stroke="#0a0a0a" stroke-width="0.95"/>
<circle cx="700.1" cy="1020.7" r="4.6" fill="#3B80A3" stroke="#0a0a0a" stroke-width="0.95"/>
<circle cx="713.6" cy="1022.1" r="4.6" fill="#3B80A3" stroke="#0a0a0a" stroke-width="0.95"/>
<polyline points="169.80,800.30 169.80,791.20 260.00,791.20 260.00,876.50" fill="none" stroke="#231F20" stroke-width="3.2" stroke-linecap="round" stroke-linejoin="miter"/>
<text x="218.30" y="782.80" font-size="26.4" fill="#231F20" text-anchor="middle" stroke="#231F20" stroke-width="0.5">****</text>
<line x1="461.70" y1="820.90" x2="499.50" y2="820.90" stroke="#000" stroke-width="3.5" stroke-linecap="round" stroke-dasharray="0 7.55"/>
<circle cx="482.9" cy="820.9" r="4.85" fill="#A2A6A8" stroke="#0a0a0a" stroke-width="0.95"/>
<text x="513.80" y="828.70" font-size="26.4" fill="#000" class="t" stroke="#000">Ctrl</text>
<line x1="462.30" y1="856.30" x2="503.70" y2="856.30" stroke="#3B80A3" stroke-width="3.8" stroke-linecap="round"/>
<circle cx="482.9" cy="856.3" r="4.85" fill="#3B80A3" stroke="#0a0a0a" stroke-width="0.95"/>
<text x="513.80" y="863.60" font-size="26.4" fill="#1F5FA3" class="t" stroke="#1F5FA3">+ARO112</text>
<line x1="462.30" y1="891.50" x2="503.70" y2="891.50" stroke="#E4B77C" stroke-width="3.6" stroke-linecap="round" stroke-dasharray="11 7.5"/>
<circle cx="482.9" cy="891.5" r="4.85" fill="#E4B77C" stroke="#0a0a0a" stroke-width="0.95"/>
<text x="513.80" y="899.70" font-size="26.4" fill="#9A6324" class="t" stroke="#9A6324">+EcN</text>
<rect x="1357.10" y="129.00" width="53.60" height="26.05" fill="#6C76AE" stroke="#CACCCE" stroke-width="1.7"/>
<rect x="1421.10" y="129.00" width="53.90" height="26.05" fill="#6C76AE" stroke="#CACCCE" stroke-width="1.7"/>
<rect x="1475.00" y="129.00" width="53.90" height="26.05" fill="#6C76AE" stroke="#CACCCE" stroke-width="1.7"/>
<rect x="1528.90" y="129.00" width="53.90" height="26.05" fill="#6C76AE" stroke="#CACCCE" stroke-width="1.7"/>
<line x1="1348.90" y1="142.03" x2="1358.00" y2="142.03" stroke="#141414" stroke-width="2.4" stroke-linecap="butt"/>
<text x="1343.0" y="149.72" font-size="26.4" fill="#211F21" class="t" stroke="#211F21" text-anchor="end"><tspan font-style="italic" letter-spacing="0.19">Akkermansia</tspan></text>
<rect x="1357.10" y="166.50" width="53.60" height="26.05" fill="#3A5CA8" stroke="#CACCCE" stroke-width="1.7"/>
<rect x="1421.10" y="166.50" width="53.90" height="26.05" fill="#6C76AE" stroke="#CACCCE" stroke-width="1.7"/>
<rect x="1475.00" y="166.50" width="53.90" height="26.05" fill="#6C76AE" stroke="#CACCCE" stroke-width="1.7"/>
<rect x="1528.90" y="166.50" width="53.90" height="26.05" fill="#3A5CA8" stroke="#CACCCE" stroke-width="1.7"/>
<text x="1449.35" y="188.13" font-size="18.3" fill="#FFFFFF" text-anchor="middle" stroke="#FFFFFF" stroke-width="0.12">****</text>
<text x="1502.35" y="188.13" font-size="18.3" fill="#FFFFFF" text-anchor="middle" stroke="#FFFFFF" stroke-width="0.12">****</text>
<line x1="1348.90" y1="179.53" x2="1358.00" y2="179.53" stroke="#141414" stroke-width="2.4" stroke-linecap="butt"/>
<text x="1343.0" y="187.22" font-size="26.4" fill="#211F21" class="t" stroke="#211F21" text-anchor="end"><tspan font-style="italic" letter-spacing="0.19">Escherichia/Shigella</tspan></text>
<rect x="1357.10" y="192.55" width="53.60" height="26.05" fill="#3A5CA8" stroke="#CACCCE" stroke-width="1.7"/>
<rect x="1421.10" y="192.55" width="53.90" height="26.05" fill="#FFFFFF" stroke="#CACCCE" stroke-width="1.7"/>
<rect x="1475.00" y="192.55" width="53.90" height="26.05" fill="#FFFFFF" stroke="#CACCCE" stroke-width="1.7"/>
<rect x="1528.90" y="192.55" width="53.90" height="26.05" fill="#6C76AE" stroke="#CACCCE" stroke-width="1.7"/>
<text x="1449.35" y="214.18" font-size="18.3" fill="#211F21" text-anchor="middle" stroke="#211F21" stroke-width="0.12">****</text>
<text x="1502.35" y="214.18" font-size="18.3" fill="#211F21" text-anchor="middle" stroke="#211F21" stroke-width="0.12">****</text>
<text x="1556.35" y="214.18" font-size="18.3" fill="#FFFFFF" text-anchor="middle" stroke="#FFFFFF" stroke-width="0.12">***</text>
<line x1="1348.90" y1="205.58" x2="1358.00" y2="205.58" stroke="#141414" stroke-width="2.4" stroke-linecap="butt"/>
<text x="1343.0" y="213.28" font-size="26.4" fill="#211F21" class="t" stroke="#211F21" text-anchor="end"><tspan font-style="italic" letter-spacing="0.19">Proteus</tspan></text>
<rect x="1357.10" y="218.60" width="53.60" height="26.05" fill="#6C76AE" stroke="#CACCCE" stroke-width="1.7"/>
<rect x="1421.10" y="218.60" width="53.90" height="26.05" fill="#FFFFFF" stroke="#CACCCE" stroke-width="1.7"/>
<rect x="1475.00" y="218.60" width="53.90" height="26.05" fill="#FFFFFF" stroke="#CACCCE" stroke-width="1.7"/>
<rect x="1528.90" y="218.60" width="53.90" height="26.05" fill="#6C76AE" stroke="#CACCCE" stroke-width="1.7"/>
<text x="1449.35" y="242.33" font-size="18.3" fill="#211F21" text-anchor="middle" stroke="#211F21" stroke-width="0.12">*</text>
<text x="1502.35" y="242.33" font-size="18.3" fill="#211F21" text-anchor="middle" stroke="#211F21" stroke-width="0.12">**</text>
<line x1="1348.90" y1="231.62" x2="1358.00" y2="231.62" stroke="#141414" stroke-width="2.4" stroke-linecap="butt"/>
<text x="1343.0" y="239.32" font-size="26.4" fill="#211F21" class="t" stroke="#211F21" text-anchor="end"><tspan letter-spacing="0.12">Unc. </tspan><tspan font-style="italic" letter-spacing="0.19">Enterobacteriaceae</tspan></text>
<rect x="1357.10" y="244.65" width="53.60" height="26.05" fill="#6C76AE" stroke="#CACCCE" stroke-width="1.7"/>
<rect x="1421.10" y="244.65" width="53.90" height="26.05" fill="#FFFFFF" stroke="#CACCCE" stroke-width="1.7"/>
<rect x="1475.00" y="244.65" width="53.90" height="26.05" fill="#E56B7B" stroke="#CACCCE" stroke-width="1.7"/>
<rect x="1528.90" y="244.65" width="53.90" height="26.05" fill="#6C76AE" stroke="#CACCCE" stroke-width="1.7"/>
<text x="1449.35" y="268.98" font-size="18.3" fill="#211F21" text-anchor="middle" stroke="#211F21" stroke-width="0.12">*</text>
<text x="1502.35" y="269.68" font-size="18.3" fill="#211F21" text-anchor="middle" stroke="#211F21" stroke-width="0.12">**</text>
<line x1="1348.90" y1="257.68" x2="1358.00" y2="257.68" stroke="#141414" stroke-width="2.4" stroke-linecap="butt"/>
<text x="1343.0" y="265.38" font-size="26.4" fill="#211F21" class="t" stroke="#211F21" text-anchor="end"><tspan font-style="italic" letter-spacing="0.19">Parasutterella</tspan></text>
<rect x="1357.10" y="270.70" width="53.60" height="26.05" fill="#FFFFFF" stroke="#CACCCE" stroke-width="1.7"/>
<rect x="1421.10" y="270.70" width="53.90" height="26.05" fill="#6C76AE" stroke="#CACCCE" stroke-width="1.7"/>
<rect x="1475.00" y="270.70" width="53.90" height="26.05" fill="#FFFFFF" stroke="#CACCCE" stroke-width="1.7"/>
<rect x="1528.90" y="270.70" width="53.90" height="26.05" fill="#FFFFFF" stroke="#CACCCE" stroke-width="1.7"/>
<text x="1449.35" y="294.13" font-size="18.3" fill="#FFFFFF" text-anchor="middle" stroke="#FFFFFF" stroke-width="0.12">***</text>
<line x1="1348.90" y1="283.73" x2="1358.00" y2="283.73" stroke="#141414" stroke-width="2.4" stroke-linecap="butt"/>
<text x="1343.0" y="291.43" font-size="26.4" fill="#211F21" class="t" stroke="#211F21" text-anchor="end"><tspan font-style="italic" letter-spacing="0.19">Enterobacter/Klebsiella</tspan></text>
<rect x="1357.10" y="296.75" width="53.60" height="26.05" fill="#FFFFFF" stroke="#CACCCE" stroke-width="1.7"/>
<rect x="1421.10" y="296.75" width="53.90" height="26.05" fill="#FFFFFF" stroke="#CACCCE" stroke-width="1.7"/>
<rect x="1475.00" y="296.75" width="53.90" height="26.05" fill="#FFFFFF" stroke="#CACCCE" stroke-width="1.7"/>
<rect x="1528.90" y="296.75" width="53.90" height="26.05" fill="#EA3730" stroke="#CACCCE" stroke-width="1.7"/>
<text x="1556.35" y="318.88" font-size="18.3" fill="#FFFFFF" text-anchor="middle" stroke="#FFFFFF" stroke-width="0.12">****</text>
<line x1="1348.90" y1="309.77" x2="1358.00" y2="309.77" stroke="#141414" stroke-width="2.4" stroke-linecap="butt"/>
<text x="1343.0" y="317.47" font-size="26.4" fill="#211F21" class="t" stroke="#211F21" text-anchor="end"><tspan letter-spacing="0.12">Unc. </tspan><tspan font-style="italic" letter-spacing="0.19">Alcaligenaceae</tspan></text>
<rect x="1357.10" y="322.80" width="53.60" height="26.05" fill="#E56B7B" stroke="#CACCCE" stroke-width="1.7"/>
<rect x="1421.10" y="322.80" width="53.90" height="26.05" fill="#E56B7B" stroke="#CACCCE" stroke-width="1.7"/>
<rect x="1475.00" y="322.80" width="53.90" height="26.05" fill="#E56B7B" stroke="#CACCCE" stroke-width="1.7"/>
<rect x="1528.90" y="322.80" width="53.90" height="26.05" fill="#E56B7B" stroke="#CACCCE" stroke-width="1.7"/>
<line x1="1348.90" y1="335.83" x2="1358.00" y2="335.83" stroke="#141414" stroke-width="2.4" stroke-linecap="butt"/>
<text x="1343.0" y="343.53" font-size="26.4" fill="#211F21" class="t" stroke="#211F21" text-anchor="end"><tspan font-style="italic" letter-spacing="0.19">Alphaproteobacteria incertae sedis</tspan></text>
<rect x="1357.10" y="348.85" width="53.60" height="26.05" fill="#E56B7B" stroke="#CACCCE" stroke-width="1.7"/>
<rect x="1421.10" y="348.85" width="53.90" height="26.05" fill="#E56B7B" stroke="#CACCCE" stroke-width="1.7"/>
<rect x="1475.00" y="348.85" width="53.90" height="26.05" fill="#E56B7B" stroke="#CACCCE" stroke-width="1.7"/>
<rect x="1528.90" y="348.85" width="53.90" height="26.05" fill="#EA3730" stroke="#CACCCE" stroke-width="1.7"/>
<text x="1502.35" y="371.68" font-size="18.3" fill="#FFFFFF" text-anchor="middle" stroke="#FFFFFF" stroke-width="0.12">**</text>
<line x1="1348.90" y1="361.88" x2="1358.00" y2="361.88" stroke="#141414" stroke-width="2.4" stroke-linecap="butt"/>
<text x="1343.0" y="369.57" font-size="26.4" fill="#211F21" class="t" stroke="#211F21" text-anchor="end"><tspan font-style="italic" letter-spacing="0.19">Desulfovibrio</tspan></text>
<rect x="1357.10" y="386.70" width="53.60" height="26.05" fill="#FFFFFF" stroke="#CACCCE" stroke-width="1.7"/>
<rect x="1421.10" y="386.70" width="53.90" height="26.05" fill="#6C76AE" stroke="#CACCCE" stroke-width="1.7"/>
<rect x="1475.00" y="386.70" width="53.90" height="26.05" fill="#FFFFFF" stroke="#CACCCE" stroke-width="1.7"/>
<rect x="1528.90" y="386.70" width="53.90" height="26.05" fill="#6C76AE" stroke="#CACCCE" stroke-width="1.7"/>
<line x1="1348.90" y1="399.73" x2="1358.00" y2="399.73" stroke="#141414" stroke-width="2.4" stroke-linecap="butt"/>
<text x="1343.0" y="407.43" font-size="26.4" fill="#211F21" class="t" stroke="#211F21" text-anchor="end"><tspan font-style="italic" letter-spacing="0.19">Parabacteroides</tspan></text>
<rect x="1357.10" y="412.75" width="53.60" height="26.05" fill="#E56B7B" stroke="#CACCCE" stroke-width="1.7"/>
<rect x="1421.10" y="412.75" width="53.90" height="26.05" fill="#E56B7B" stroke="#CACCCE" stroke-width="1.7"/>
<rect x="1475.00" y="412.75" width="53.90" height="26.05" fill="#E56B7B" stroke="#CACCCE" stroke-width="1.7"/>
<rect x="1528.90" y="412.75" width="53.90" height="26.05" fill="#EA3730" stroke="#CACCCE" stroke-width="1.7"/>
<text x="1449.35" y="436.07" font-size="18.3" fill="#FFFFFF" text-anchor="middle" stroke="#FFFFFF" stroke-width="0.12">*</text>
<text x="1556.35" y="436.07" font-size="18.3" fill="#FFFFFF" text-anchor="middle" stroke="#FFFFFF" stroke-width="0.12">*</text>
<line x1="1348.90" y1="425.77" x2="1358.00" y2="425.77" stroke="#141414" stroke-width="2.4" stroke-linecap="butt"/>
<text x="1343.0" y="433.47" font-size="26.4" fill="#211F21" class="t" stroke="#211F21" text-anchor="end"><tspan letter-spacing="0.12">Unc. </tspan><tspan font-style="italic" letter-spacing="0.19">Prevotellaceae</tspan></text>
<rect x="1357.10" y="438.80" width="53.60" height="26.05" fill="#E56B7B" stroke="#CACCCE" stroke-width="1.7"/>
<rect x="1421.10" y="438.80" width="53.90" height="26.05" fill="#FFFFFF" stroke="#CACCCE" stroke-width="1.7"/>
<rect x="1475.00" y="438.80" width="53.90" height="26.05" fill="#FFFFFF" stroke="#CACCCE" stroke-width="1.7"/>
<rect x="1528.90" y="438.80" width="53.90" height="26.05" fill="#FFFFFF" stroke="#CACCCE" stroke-width="1.7"/>
<text x="1556.35" y="460.93" font-size="18.3" fill="#211F21" text-anchor="middle" stroke="#211F21" stroke-width="0.12">****</text>
<line x1="1348.90" y1="451.83" x2="1358.00" y2="451.83" stroke="#141414" stroke-width="2.4" stroke-linecap="butt"/>
<text x="1343.0" y="459.53" font-size="26.4" fill="#7BA35D" class="t" stroke="#7BA35D" text-anchor="end"><tspan font-style="italic" letter-spacing="0.19">Alistipes</tspan></text>
<rect x="1357.10" y="464.85" width="53.60" height="26.05" fill="#EA3730" stroke="#CACCCE" stroke-width="1.7"/>
<rect x="1421.10" y="464.85" width="53.90" height="26.05" fill="#EA3730" stroke="#CACCCE" stroke-width="1.7"/>
<rect x="1475.00" y="464.85" width="53.90" height="26.05" fill="#E56B7B" stroke="#CACCCE" stroke-width="1.7"/>
<rect x="1528.90" y="464.85" width="53.90" height="26.05" fill="#EA3730" stroke="#CACCCE" stroke-width="1.7"/>
<line x1="1348.90" y1="477.88" x2="1358.00" y2="477.88" stroke="#141414" stroke-width="2.4" stroke-linecap="butt"/>
<text x="1343.0" y="485.57" font-size="26.4" fill="#211F21" class="t" stroke="#211F21" text-anchor="end"><tspan letter-spacing="0.12">Unc. </tspan><tspan letter-spacing="0.12">Bacteroidota</tspan></text>
<rect x="1357.10" y="490.90" width="53.60" height="26.05" fill="#EA3730" stroke="#CACCCE" stroke-width="1.7"/>
<rect x="1421.10" y="490.90" width="53.90" height="26.05" fill="#E56B7B" stroke="#CACCCE" stroke-width="1.7"/>
<rect x="1475.00" y="490.90" width="53.90" height="26.05" fill="#EA3730" stroke="#CACCCE" stroke-width="1.7"/>
<rect x="1528.90" y="490.90" width="53.90" height="26.05" fill="#E56B7B" stroke="#CACCCE" stroke-width="1.7"/>
<line x1="1348.90" y1="503.92" x2="1358.00" y2="503.92" stroke="#141414" stroke-width="2.4" stroke-linecap="butt"/>
<text x="1343.0" y="511.62" font-size="26.4" fill="#211F21" class="t" stroke="#211F21" text-anchor="end"><tspan letter-spacing="0.12">Unc. </tspan><tspan letter-spacing="0.12">Bacteroidales</tspan></text>
<rect x="1357.10" y="516.95" width="53.60" height="26.05" fill="#EA3730" stroke="#CACCCE" stroke-width="1.7"/>
<rect x="1421.10" y="516.95" width="53.90" height="26.05" fill="#FFFFFF" stroke="#CACCCE" stroke-width="1.7"/>
<rect x="1475.00" y="516.95" width="53.90" height="26.05" fill="#EA3730" stroke="#CACCCE" stroke-width="1.7"/>
<rect x="1528.90" y="516.95" width="53.90" height="26.05" fill="#6C76AE" stroke="#CACCCE" stroke-width="1.7"/>
<text x="1449.35" y="539.67" font-size="18.3" fill="#211F21" text-anchor="middle" stroke="#211F21" stroke-width="0.12">***</text>
<text x="1502.35" y="539.67" font-size="18.3" fill="#FFFFFF" text-anchor="middle" stroke="#FFFFFF" stroke-width="0.12">*</text>
<text x="1556.35" y="539.67" font-size="18.3" fill="#FFFFFF" text-anchor="middle" stroke="#FFFFFF" stroke-width="0.12">****</text>
<line x1="1348.90" y1="529.98" x2="1358.00" y2="529.98" stroke="#141414" stroke-width="2.4" stroke-linecap="butt"/>
<text x="1343.0" y="537.68" font-size="26.4" fill="#211F21" class="t" stroke="#211F21" text-anchor="end"><tspan font-style="italic" letter-spacing="0.19">Bacteroides</tspan></text>
<rect x="1357.10" y="543.00" width="53.60" height="26.05" fill="#EA3730" stroke="#CACCCE" stroke-width="1.7"/>
<rect x="1421.10" y="543.00" width="53.90" height="26.05" fill="#EA3730" stroke="#CACCCE" stroke-width="1.7"/>
<rect x="1475.00" y="543.00" width="53.90" height="26.05" fill="#EA3730" stroke="#CACCCE" stroke-width="1.7"/>
<rect x="1528.90" y="543.00" width="53.90" height="26.05" fill="#EA3730" stroke="#CACCCE" stroke-width="1.7"/>
<line x1="1348.90" y1="556.02" x2="1358.00" y2="556.02" stroke="#141414" stroke-width="2.4" stroke-linecap="butt"/>
<text x="1343.0" y="563.73" font-size="26.4" fill="#211F21" class="t" stroke="#211F21" text-anchor="end"><tspan letter-spacing="0.12">Unc. </tspan><tspan font-style="italic" letter-spacing="0.19" dx="-3">Porphyromonadaceae</tspan></text>
<rect x="1357.10" y="569.05" width="53.60" height="26.05" fill="#EA3730" stroke="#CACCCE" stroke-width="1.7"/>
<rect x="1421.10" y="569.05" width="53.90" height="26.05" fill="#EA3730" stroke="#CACCCE" stroke-width="1.7"/>
<rect x="1475.00" y="569.05" width="53.90" height="26.05" fill="#EA3730" stroke="#CACCCE" stroke-width="1.7"/>
<rect x="1528.90" y="569.05" width="53.90" height="26.05" fill="#EA3730" stroke="#CACCCE" stroke-width="1.7"/>
<text x="1556.35" y="591.97" font-size="18.3" fill="#FFFFFF" text-anchor="middle" stroke="#FFFFFF" stroke-width="0.12">***</text>
<line x1="1348.90" y1="582.07" x2="1358.00" y2="582.07" stroke="#141414" stroke-width="2.4" stroke-linecap="butt"/>
<text x="1343.0" y="589.77" font-size="26.4" fill="#211F21" class="t" stroke="#211F21" text-anchor="end"><tspan font-style="italic" letter-spacing="0.19">Muribaculaceae</tspan></text>
<rect x="1357.10" y="595.10" width="53.60" height="26.05" fill="#EA3730" stroke="#CACCCE" stroke-width="1.7"/>
<rect x="1421.10" y="595.10" width="53.90" height="26.05" fill="#EA3730" stroke="#CACCCE" stroke-width="1.7"/>
<rect x="1475.00" y="595.10" width="53.90" height="26.05" fill="#EA3730" stroke="#CACCCE" stroke-width="1.7"/>
<rect x="1528.90" y="595.10" width="53.90" height="26.05" fill="#EA3730" stroke="#CACCCE" stroke-width="1.7"/>
<line x1="1348.90" y1="608.12" x2="1358.00" y2="608.12" stroke="#141414" stroke-width="2.4" stroke-linecap="butt"/>
<text x="1343.0" y="615.83" font-size="26.4" fill="#211F21" class="t" stroke="#211F21" text-anchor="end"><tspan font-style="italic" letter-spacing="0.19">Prevotella</tspan></text>
<rect x="1357.10" y="633.30" width="53.60" height="26.05" fill="#6C76AE" stroke="#CACCCE" stroke-width="1.7"/>
<rect x="1421.10" y="633.30" width="53.90" height="26.05" fill="#FFFFFF" stroke="#CACCCE" stroke-width="1.7"/>
<rect x="1475.00" y="633.30" width="53.90" height="26.05" fill="#6C76AE" stroke="#CACCCE" stroke-width="1.7"/>
<rect x="1528.90" y="633.30" width="53.90" height="26.05" fill="#EA3730" stroke="#CACCCE" stroke-width="1.7"/>
<text x="1449.35" y="655.62" font-size="18.3" fill="#211F21" text-anchor="middle" stroke="#211F21" stroke-width="0.12">**</text>
<text x="1556.35" y="655.62" font-size="18.3" fill="#FFFFFF" text-anchor="middle" stroke="#FFFFFF" stroke-width="0.12">****</text>
<line x1="1348.90" y1="646.32" x2="1358.00" y2="646.32" stroke="#141414" stroke-width="2.4" stroke-linecap="butt"/>
<text x="1343.0" y="654.02" font-size="26.4" fill="#211F21" class="t" stroke="#211F21" text-anchor="end"><tspan letter-spacing="0.12">Unc. </tspan><tspan letter-spacing="0.12">Clostridiales</tspan></text>
<rect x="1357.10" y="659.35" width="53.60" height="26.05" fill="#6C76AE" stroke="#CACCCE" stroke-width="1.7"/>
<rect x="1421.10" y="659.35" width="53.90" height="26.05" fill="#E56B7B" stroke="#CACCCE" stroke-width="1.7"/>
<rect x="1475.00" y="659.35" width="53.90" height="26.05" fill="#FFFFFF" stroke="#CACCCE" stroke-width="1.7"/>
<rect x="1528.90" y="659.35" width="53.90" height="26.05" fill="#E56B7B" stroke="#CACCCE" stroke-width="1.7"/>
<text x="1449.35" y="682.27" font-size="18.3" fill="#FFFFFF" text-anchor="middle" stroke="#FFFFFF" stroke-width="0.12">*</text>
<text x="1502.35" y="682.27" font-size="18.3" fill="#211F21" text-anchor="middle" stroke="#211F21" stroke-width="0.12">*</text>
<text x="1556.35" y="682.27" font-size="18.3" fill="#FFFFFF" text-anchor="middle" stroke="#FFFFFF" stroke-width="0.12">**</text>
<line x1="1348.90" y1="672.37" x2="1358.00" y2="672.37" stroke="#141414" stroke-width="2.4" stroke-linecap="butt"/>
<text x="1343.0" y="680.07" font-size="26.4" fill="#211F21" class="t" stroke="#211F21" text-anchor="end"><tspan font-style="italic" letter-spacing="0.19">Lactobacillus</tspan></text>
<rect x="1357.10" y="685.40" width="53.60" height="26.05" fill="#FFFFFF" stroke="#CACCCE" stroke-width="1.7"/>
<rect x="1421.10" y="685.40" width="53.90" height="26.05" fill="#E56B7B" stroke="#CACCCE" stroke-width="1.7"/>
<rect x="1475.00" y="685.40" width="53.90" height="26.05" fill="#FFFFFF" stroke="#CACCCE" stroke-width="1.7"/>
<rect x="1528.90" y="685.40" width="53.90" height="26.05" fill="#E56B7B" stroke="#CACCCE" stroke-width="1.7"/>
<text x="1449.35" y="707.12" font-size="18.3" fill="#FFFFFF" text-anchor="middle" stroke="#FFFFFF" stroke-width="0.12">***</text>
<text x="1556.35" y="707.12" font-size="18.3" fill="#FFFFFF" text-anchor="middle" stroke="#FFFFFF" stroke-width="0.12">**</text>
<line x1="1348.90" y1="698.42" x2="1358.00" y2="698.42" stroke="#141414" stroke-width="2.4" stroke-linecap="butt"/>
<text x="1343.0" y="706.12" font-size="26.4" fill="#211F21" class="t" stroke="#211F21" text-anchor="end"><tspan letter-spacing="0.12">Unc. </tspan><tspan font-style="italic" letter-spacing="0.19">Erysipelotrichaceae</tspan></text>
<rect x="1357.10" y="711.45" width="53.60" height="26.05" fill="#FFFFFF" stroke="#CACCCE" stroke-width="1.7"/>
<rect x="1421.10" y="711.45" width="53.90" height="26.05" fill="#FFFFFF" stroke="#CACCCE" stroke-width="1.7"/>
<rect x="1475.00" y="711.45" width="53.90" height="26.05" fill="#6C76AE" stroke="#CACCCE" stroke-width="1.7"/>
<rect x="1528.90" y="711.45" width="53.90" height="26.05" fill="#6C76AE" stroke="#CACCCE" stroke-width="1.7"/>
<text x="1449.35" y="733.17" font-size="18.3" fill="#211F21" text-anchor="middle" stroke="#211F21" stroke-width="0.12">**</text>
<text x="1502.35" y="733.17" font-size="18.3" fill="#FFFFFF" text-anchor="middle" stroke="#FFFFFF" stroke-width="0.12">***</text>
<text x="1556.35" y="733.17" font-size="18.3" fill="#FFFFFF" text-anchor="middle" stroke="#FFFFFF" stroke-width="0.12">****</text>
<line x1="1348.90" y1="724.47" x2="1358.00" y2="724.47" stroke="#141414" stroke-width="2.4" stroke-linecap="butt"/>
<text x="1343.0" y="732.17" font-size="26.4" fill="#211F21" class="t" stroke="#211F21" text-anchor="end"><tspan font-style="italic" letter-spacing="0.19">Blautia</tspan></text>
<rect x="1357.10" y="737.50" width="53.60" height="26.05" fill="#FFFFFF" stroke="#CACCCE" stroke-width="1.7"/>
<rect x="1421.10" y="737.50" width="53.90" height="26.05" fill="#FFFFFF" stroke="#CACCCE" stroke-width="1.7"/>
<rect x="1475.00" y="737.50" width="53.90" height="26.05" fill="#FFFFFF" stroke="#CACCCE" stroke-width="1.7"/>
<rect x="1528.90" y="737.50" width="53.90" height="26.05" fill="#FFFFFF" stroke="#CACCCE" stroke-width="1.7"/>
<line x1="1348.90" y1="750.52" x2="1358.00" y2="750.52" stroke="#141414" stroke-width="2.4" stroke-linecap="butt"/>
<text x="1343.0" y="758.23" font-size="26.4" fill="#211F21" class="t" stroke="#211F21" text-anchor="end"><tspan letter-spacing="0.12">Unc. </tspan><tspan font-style="italic" letter-spacing="0.19" dx="1.8">Clostridia</tspan></text>
<rect x="1357.10" y="763.55" width="53.60" height="26.05" fill="#FFFFFF" stroke="#CACCCE" stroke-width="1.7"/>
<rect x="1421.10" y="763.55" width="53.90" height="26.05" fill="#FFFFFF" stroke="#CACCCE" stroke-width="1.7"/>
<rect x="1475.00" y="763.55" width="53.90" height="26.05" fill="#FFFFFF" stroke="#CACCCE" stroke-width="1.7"/>
<rect x="1528.90" y="763.55" width="53.90" height="26.05" fill="#FFFFFF" stroke="#CACCCE" stroke-width="1.7"/>
<line x1="1348.90" y1="776.57" x2="1358.00" y2="776.57" stroke="#141414" stroke-width="2.4" stroke-linecap="butt"/>
<text x="1342.3" y="784.27" font-size="26.4" fill="#211F21" class="t" stroke="#211F21" text-anchor="end"><tspan font-style="italic" letter-spacing="0.28">Papillibacter</tspan></text>
<rect x="1357.10" y="789.60" width="53.60" height="26.05" fill="#FFFFFF" stroke="#CACCCE" stroke-width="1.7"/>
<rect x="1421.10" y="789.60" width="53.90" height="26.05" fill="#FFFFFF" stroke="#CACCCE" stroke-width="1.7"/>
<rect x="1475.00" y="789.60" width="53.90" height="26.05" fill="#FFFFFF" stroke="#CACCCE" stroke-width="1.7"/>
<rect x="1528.90" y="789.60" width="53.90" height="26.05" fill="#FFFFFF" stroke="#CACCCE" stroke-width="1.7"/>
<line x1="1348.90" y1="802.62" x2="1358.00" y2="802.62" stroke="#141414" stroke-width="2.4" stroke-linecap="butt"/>
<text x="1343.0" y="810.32" font-size="26.4" fill="#211F21" class="t" stroke="#211F21" text-anchor="end"><tspan font-style="italic" letter-spacing="0.19">Holdemania</tspan></text>
<rect x="1357.10" y="815.65" width="53.60" height="26.05" fill="#E56B7B" stroke="#CACCCE" stroke-width="1.7"/>
<rect x="1421.10" y="815.65" width="53.90" height="26.05" fill="#E56B7B" stroke="#CACCCE" stroke-width="1.7"/>
<rect x="1475.00" y="815.65" width="53.90" height="26.05" fill="#FFFFFF" stroke="#CACCCE" stroke-width="1.7"/>
<rect x="1528.90" y="815.65" width="53.90" height="26.05" fill="#FFFFFF" stroke="#CACCCE" stroke-width="1.7"/>
<line x1="1348.90" y1="828.67" x2="1358.00" y2="828.67" stroke="#141414" stroke-width="2.4" stroke-linecap="butt"/>
<text x="1343.0" y="836.38" font-size="26.4" fill="#211F21" class="t" stroke="#211F21" text-anchor="end"><tspan font-style="italic" letter-spacing="0.19">Allobaculum</tspan></text>
<rect x="1357.10" y="841.70" width="53.60" height="26.05" fill="#E56B7B" stroke="#CACCCE" stroke-width="1.7"/>
<rect x="1421.10" y="841.70" width="53.90" height="26.05" fill="#FFFFFF" stroke="#CACCCE" stroke-width="1.7"/>
<rect x="1475.00" y="841.70" width="53.90" height="26.05" fill="#E56B7B" stroke="#CACCCE" stroke-width="1.7"/>
<rect x="1528.90" y="841.70" width="53.90" height="26.05" fill="#E56B7B" stroke="#CACCCE" stroke-width="1.7"/>
<line x1="1348.90" y1="854.72" x2="1358.00" y2="854.72" stroke="#141414" stroke-width="2.4" stroke-linecap="butt"/>
<text x="1343.0" y="862.42" font-size="26.4" fill="#7BA35D" class="t" stroke="#7BA35D" text-anchor="end"><tspan font-style="italic" letter-spacing="0.19">Syntrophococcus</tspan></text>
<rect x="1357.10" y="867.75" width="53.60" height="26.05" fill="#E56B7B" stroke="#CACCCE" stroke-width="1.7"/>
<rect x="1421.10" y="867.75" width="53.90" height="26.05" fill="#FFFFFF" stroke="#CACCCE" stroke-width="1.7"/>
<rect x="1475.00" y="867.75" width="53.90" height="26.05" fill="#E56B7B" stroke="#CACCCE" stroke-width="1.7"/>
<rect x="1528.90" y="867.75" width="53.90" height="26.05" fill="#E56B7B" stroke="#CACCCE" stroke-width="1.7"/>
<line x1="1348.90" y1="880.77" x2="1358.00" y2="880.77" stroke="#141414" stroke-width="2.4" stroke-linecap="butt"/>
<text x="1343.0" y="888.48" font-size="26.4" fill="#7BA35D" class="t" stroke="#7BA35D" text-anchor="end"><tspan font-style="italic" letter-spacing="0.19">Ruminococcus</tspan></text>
<rect x="1357.10" y="893.80" width="53.60" height="26.05" fill="#E56B7B" stroke="#CACCCE" stroke-width="1.7"/>
<rect x="1421.10" y="893.80" width="53.90" height="26.05" fill="#FFFFFF" stroke="#CACCCE" stroke-width="1.7"/>
<rect x="1475.00" y="893.80" width="53.90" height="26.05" fill="#E56B7B" stroke="#CACCCE" stroke-width="1.7"/>
<rect x="1528.90" y="893.80" width="53.90" height="26.05" fill="#E56B7B" stroke="#CACCCE" stroke-width="1.7"/>
<line x1="1348.90" y1="906.82" x2="1358.00" y2="906.82" stroke="#141414" stroke-width="2.4" stroke-linecap="butt"/>
<text x="1343.0" y="914.52" font-size="26.4" fill="#7BA35D" class="t" stroke="#7BA35D" text-anchor="end"><tspan font-style="italic" letter-spacing="0.19">Butyricicoccus</tspan></text>
<rect x="1357.10" y="919.85" width="53.60" height="26.05" fill="#E56B7B" stroke="#CACCCE" stroke-width="1.7"/>
<rect x="1421.10" y="919.85" width="53.90" height="26.05" fill="#E56B7B" stroke="#CACCCE" stroke-width="1.7"/>
<rect x="1475.00" y="919.85" width="53.90" height="26.05" fill="#E56B7B" stroke="#CACCCE" stroke-width="1.7"/>
<rect x="1528.90" y="919.85" width="53.90" height="26.05" fill="#E56B7B" stroke="#CACCCE" stroke-width="1.7"/>
<line x1="1348.90" y1="932.87" x2="1358.00" y2="932.87" stroke="#141414" stroke-width="2.4" stroke-linecap="butt"/>
<text x="1343.0" y="940.57" font-size="26.4" fill="#211F21" class="t" stroke="#211F21" text-anchor="end"><tspan font-style="italic" letter-spacing="0.19">Anaerovorax</tspan></text>
<rect x="1357.10" y="945.90" width="53.60" height="26.05" fill="#E56B7B" stroke="#CACCCE" stroke-width="1.7"/>
<rect x="1421.10" y="945.90" width="53.90" height="26.05" fill="#FFFFFF" stroke="#CACCCE" stroke-width="1.7"/>
<rect x="1475.00" y="945.90" width="53.90" height="26.05" fill="#E56B7B" stroke="#CACCCE" stroke-width="1.7"/>
<rect x="1528.90" y="945.90" width="53.90" height="26.05" fill="#E56B7B" stroke="#CACCCE" stroke-width="1.7"/>
<text x="1449.35" y="966.82" font-size="18.3" fill="#211F21" text-anchor="middle" stroke="#211F21" stroke-width="0.12">*</text>
<text x="1502.35" y="966.82" font-size="18.3" fill="#FFFFFF" text-anchor="middle" stroke="#FFFFFF" stroke-width="0.12">*</text>
<line x1="1348.90" y1="958.92" x2="1358.00" y2="958.92" stroke="#141414" stroke-width="2.4" stroke-linecap="butt"/>
<text x="1343.0" y="966.62" font-size="26.4" fill="#7BA35D" class="t" stroke="#7BA35D" text-anchor="end"><tspan font-style="italic" letter-spacing="0.19">Dorea</tspan></text>
<rect x="1357.10" y="971.95" width="53.60" height="26.05" fill="#E56B7B" stroke="#CACCCE" stroke-width="1.7"/>
<rect x="1421.10" y="971.95" width="53.90" height="26.05" fill="#E56B7B" stroke="#CACCCE" stroke-width="1.7"/>
<rect x="1475.00" y="971.95" width="53.90" height="26.05" fill="#E56B7B" stroke="#CACCCE" stroke-width="1.7"/>
<rect x="1528.90" y="971.95" width="53.90" height="26.05" fill="#E56B7B" stroke="#CACCCE" stroke-width="1.7"/>
<line x1="1348.90" y1="984.98" x2="1358.00" y2="984.98" stroke="#141414" stroke-width="2.4" stroke-linecap="butt"/>
<text x="1343.0" y="992.68" font-size="26.4" fill="#211F21" class="t" stroke="#211F21" text-anchor="end"><tspan letter-spacing="0.12">Unc. </tspan><tspan letter-spacing="0.12">Bacillota</tspan></text>
<rect x="1357.10" y="998.00" width="53.60" height="26.05" fill="#E56B7B" stroke="#CACCCE" stroke-width="1.7"/>
<rect x="1421.10" y="998.00" width="53.90" height="26.05" fill="#E56B7B" stroke="#CACCCE" stroke-width="1.7"/>
<rect x="1475.00" y="998.00" width="53.90" height="26.05" fill="#E56B7B" stroke="#CACCCE" stroke-width="1.7"/>
<rect x="1528.90" y="998.00" width="53.90" height="26.05" fill="#E56B7B" stroke="#CACCCE" stroke-width="1.7"/>
<text x="1449.35" y="1021.32" font-size="18.3" fill="#FFFFFF" text-anchor="middle" stroke="#FFFFFF" stroke-width="0.12">*</text>
<text x="1502.35" y="1021.32" font-size="18.3" fill="#FFFFFF" text-anchor="middle" stroke="#FFFFFF" stroke-width="0.12">*</text>
<line x1="1348.90" y1="1011.02" x2="1358.00" y2="1011.02" stroke="#141414" stroke-width="2.4" stroke-linecap="butt"/>
<text x="1343.0" y="1018.73" font-size="26.4" fill="#211F21" class="t" stroke="#211F21" text-anchor="end"><tspan font-style="italic" letter-spacing="0.19">Acetanaerobacterium</tspan></text>
<rect x="1357.10" y="1024.05" width="53.60" height="26.05" fill="#E56B7B" stroke="#CACCCE" stroke-width="1.7"/>
<rect x="1421.10" y="1024.05" width="53.90" height="26.05" fill="#EA3730" stroke="#CACCCE" stroke-width="1.7"/>
<rect x="1475.00" y="1024.05" width="53.90" height="26.05" fill="#E56B7B" stroke="#CACCCE" stroke-width="1.7"/>
<rect x="1528.90" y="1024.05" width="53.90" height="26.05" fill="#FFFFFF" stroke="#CACCCE" stroke-width="1.7"/>
<text x="1556.35" y="1046.77" font-size="18.3" fill="#211F21" text-anchor="middle" stroke="#211F21" stroke-width="0.12">*</text>
<line x1="1348.90" y1="1037.07" x2="1358.00" y2="1037.07" stroke="#141414" stroke-width="2.4" stroke-linecap="butt"/>
<text x="1342.3" y="1044.77" font-size="26.4" fill="#211F21" class="t" stroke="#211F21" text-anchor="end"><tspan font-style="italic" letter-spacing="0.28">Turicibacter</tspan></text>
<rect x="1357.10" y="1050.10" width="53.60" height="26.05" fill="#EA3730" stroke="#CACCCE" stroke-width="1.7"/>
<rect x="1421.10" y="1050.10" width="53.90" height="26.05" fill="#FFFFFF" stroke="#CACCCE" stroke-width="1.7"/>
<rect x="1475.00" y="1050.10" width="53.90" height="26.05" fill="#E56B7B" stroke="#CACCCE" stroke-width="1.7"/>
<rect x="1528.90" y="1050.10" width="53.90" height="26.05" fill="#EA3730" stroke="#CACCCE" stroke-width="1.7"/>
<text x="1449.35" y="1073.83" font-size="18.3" fill="#211F21" text-anchor="middle" stroke="#211F21" stroke-width="0.12">***</text>
<text x="1502.35" y="1073.83" font-size="18.3" fill="#FFFFFF" text-anchor="middle" stroke="#FFFFFF" stroke-width="0.12">**</text>
<line x1="1348.90" y1="1063.12" x2="1358.00" y2="1063.12" stroke="#141414" stroke-width="2.4" stroke-linecap="butt"/>
<text x="1342.3" y="1070.83" font-size="26.4" fill="#7BA35D" class="t" stroke="#7BA35D" text-anchor="end"><tspan font-style="italic" letter-spacing="0.28">Oscillibacter</tspan></text>
<rect x="1357.10" y="1076.15" width="53.60" height="26.05" fill="#EA3730" stroke="#CACCCE" stroke-width="1.7"/>
<rect x="1421.10" y="1076.15" width="53.90" height="26.05" fill="#FFFFFF" stroke="#CACCCE" stroke-width="1.7"/>
<rect x="1475.00" y="1076.15" width="53.90" height="26.05" fill="#FFFFFF" stroke="#CACCCE" stroke-width="1.7"/>
<rect x="1528.90" y="1076.15" width="53.90" height="26.05" fill="#EA3730" stroke="#CACCCE" stroke-width="1.7"/>
<text x="1449.35" y="1100.08" font-size="18.3" fill="#211F21" text-anchor="middle" stroke="#211F21" stroke-width="0.12">****</text>
<text x="1502.35" y="1100.08" font-size="18.3" fill="#211F21" text-anchor="middle" stroke="#211F21" stroke-width="0.12">****</text>
<line x1="1348.90" y1="1089.18" x2="1358.00" y2="1089.18" stroke="#141414" stroke-width="2.4" stroke-linecap="butt"/>
<text x="1343.0" y="1096.88" font-size="26.4" fill="#7BA35D" class="t" stroke="#7BA35D" text-anchor="end"><tspan letter-spacing="0.12">Unc. </tspan><tspan font-style="italic" letter-spacing="0.19" dx="1.6">Lachnospiraceae</tspan></text>
<rect x="1357.10" y="1102.20" width="53.60" height="26.05" fill="#EA3730" stroke="#CACCCE" stroke-width="1.7"/>
<rect x="1421.10" y="1102.20" width="53.90" height="26.05" fill="#FFFFFF" stroke="#CACCCE" stroke-width="1.7"/>
<rect x="1475.00" y="1102.20" width="53.90" height="26.05" fill="#EA3730" stroke="#CACCCE" stroke-width="1.7"/>
<rect x="1528.90" y="1102.20" width="53.90" height="26.05" fill="#EA3730" stroke="#CACCCE" stroke-width="1.7"/>
<text x="1449.35" y="1126.52" font-size="18.3" fill="#211F21" text-anchor="middle" stroke="#211F21" stroke-width="0.12">****</text>
<text x="1502.35" y="1126.52" font-size="18.3" fill="#FFFFFF" text-anchor="middle" stroke="#FFFFFF" stroke-width="0.12">****</text>
<line x1="1348.90" y1="1115.22" x2="1358.00" y2="1115.22" stroke="#141414" stroke-width="2.4" stroke-linecap="butt"/>
<text x="1343.0" y="1122.92" font-size="26.4" fill="#7BA35D" class="t" stroke="#7BA35D" text-anchor="end"><tspan letter-spacing="0.12">Unc. </tspan><tspan font-style="italic" letter-spacing="0.19" dx="-3">Ruminococcaceae</tspan></text>
<rect x="1357.10" y="1140.20" width="53.60" height="26.05" fill="#E56B7B" stroke="#CACCCE" stroke-width="1.7"/>
<rect x="1421.10" y="1140.20" width="53.90" height="26.05" fill="#E56B7B" stroke="#CACCCE" stroke-width="1.7"/>
<rect x="1475.00" y="1140.20" width="53.90" height="26.05" fill="#E56B7B" stroke="#CACCCE" stroke-width="1.7"/>
<rect x="1528.90" y="1140.20" width="53.90" height="26.05" fill="#E56B7B" stroke="#CACCCE" stroke-width="1.7"/>
<line x1="1348.90" y1="1153.22" x2="1358.00" y2="1153.22" stroke="#141414" stroke-width="2.4" stroke-linecap="butt"/>
<text x="1343.0" y="1160.92" font-size="26.4" fill="#211F21" class="t" stroke="#211F21" text-anchor="end"><tspan letter-spacing="0.12">Other</tspan></text>
<line x1="1384.00" y1="121.00" x2="1384.00" y2="129.40" stroke="#141414" stroke-width="2.4" stroke-linecap="butt"/>
<text x="1385.20" y="108.40" font-size="26.4" fill="#211F21" transform="rotate(-45 1385.20 108.40)" letter-spacing="0.35" class="t" stroke="#211F21">post-AB</text>
<line x1="1448.00" y1="121.00" x2="1448.00" y2="129.40" stroke="#141414" stroke-width="2.4" stroke-linecap="butt"/>
<text x="1449.20" y="108.40" font-size="26.4" fill="#211F21" transform="rotate(-45 1449.20 108.40)" letter-spacing="0.35" class="t" stroke="#211F21">+ARO112</text>
<line x1="1502.00" y1="121.00" x2="1502.00" y2="129.40" stroke="#141414" stroke-width="2.4" stroke-linecap="butt"/>
<text x="1503.20" y="108.40" font-size="26.4" fill="#211F21" transform="rotate(-45 1503.20 108.40)" letter-spacing="0.35" class="t" stroke="#211F21">Ctrl</text>
<line x1="1556.00" y1="121.00" x2="1556.00" y2="129.40" stroke="#141414" stroke-width="2.4" stroke-linecap="butt"/>
<text x="1557.20" y="108.40" font-size="26.4" fill="#211F21" transform="rotate(-45 1557.20 108.40)" letter-spacing="0.35" class="t" stroke="#211F21">+EcN</text>
<text x="881.00" y="149.80" font-size="26.4" fill="#7A4B25" class="t" stroke="#7A4B25">Verrucomicrobia</text>
<line x1="1094.50" y1="141.30" x2="1150.00" y2="141.30" stroke="#211F21" stroke-width="2.2" stroke-linecap="butt"/>
<path d="M1166.2 141.3 L1145.6 132.8 L1149.6 141.3 L1145.6 149.8 Z" fill="#211F21"/>
<text x="890.80" y="375.60" font-size="26.1" fill="#D39A6E" transform="rotate(-90 890.80 375.60)" class="t" stroke="#D39A6E">Pseudomonadota</text>
<line x1="913.20" y1="169.40" x2="913.20" y2="373.30" stroke="#D39A6E" stroke-width="2.2" stroke-linecap="butt"/>
<text x="890.80" y="577.90" font-size="26.1" fill="#E6273B" transform="rotate(-90 890.80 577.90)" class="t" stroke="#E6273B">Bacteroidota</text>
<line x1="913.20" y1="393.00" x2="913.20" y2="616.80" stroke="#E6273B" stroke-width="2.2" stroke-linecap="butt"/>
<text x="890.80" y="947.50" font-size="26.1" fill="#5FB1E2" transform="rotate(-90 890.80 947.50)" class="t" stroke="#5FB1E2">Bacillota</text>
<line x1="913.20" y1="640.00" x2="913.20" y2="1123.00" stroke="#5FB1E2" stroke-width="2.2" stroke-linecap="butt"/>
<polyline points="1383.00,1174.60 1383.00,1188.20 1449.80,1188.20 1449.80,1174.60" fill="none" stroke="#211F21" stroke-width="2.7" stroke-linecap="butt" stroke-linejoin="miter"/>
<polyline points="1503.40,1174.60 1503.40,1188.20 1559.60,1188.20 1559.60,1174.60" fill="none" stroke="#211F21" stroke-width="2.7" stroke-linecap="butt" stroke-linejoin="miter"/>
<polyline points="1449.80,1212.60 1449.80,1226.40 1559.60,1226.40 1559.60,1212.60" fill="none" stroke="#211F21" stroke-width="2.7" stroke-linecap="butt" stroke-linejoin="miter"/>
<text x="1381.00" y="1214.20" font-size="26.4" fill="#211F21" transform="matrix(1 0 0 1.05 0 -60.710)" class="t" stroke="#211F21">0.054</text>
<text x="1532.60" y="1212.20" font-size="26.4" fill="#211F21" text-anchor="middle" stroke="#211F21" stroke-width="0.5">**</text>
<text x="1507.60" y="1255.20" font-size="26.4" fill="#211F21" text-anchor="middle" stroke="#211F21" stroke-width="0.5">**</text>
<text x="1658.00" y="441.30" font-size="26.4" fill="#000" class="t" stroke="#000">Legend:</text>
<text x="1657.50" y="481.70" font-size="26.9" fill="#7BA35D" class="t" stroke="#7BA35D">Potential butyrate producers</text>
<text x="1657.50" y="513.70" font-size="26.9" fill="#7BA35D" class="t" stroke="#7BA35D">depleted by antibiotics</text>
<rect x="1658.9" y="564.8" width="37.0" height="18.0" fill="#3A5CA8" stroke="#8A8C8F" stroke-width="1.1"/>
<text x="1706.00" y="582.70" font-size="26.4" fill="#000" class="t" stroke="#000">Severely enriched</text>
<rect x="1658.9" y="609.2" width="37.0" height="18.0" fill="#6C76AE" stroke="#8A8C8F" stroke-width="1.1"/>
<text x="1706.00" y="627.50" font-size="26.4" fill="#000" class="t" stroke="#000">Enriched</text>
<rect x="1658.9" y="652.4" width="37.0" height="18.0" fill="#FFFFFF" stroke="#8A8C8F" stroke-width="1.1"/>
<text x="1706.00" y="670.30" font-size="26.4" fill="#000" class="t" stroke="#000">Unchanged / Recovered</text>
<rect x="1658.9" y="696.8" width="37.0" height="18.0" fill="#E56B7B" stroke="#8A8C8F" stroke-width="1.1"/>
<text x="1706.00" y="713.60" font-size="26.4" fill="#000" class="t" stroke="#000">Depleted</text>
<rect x="1658.9" y="741.4" width="37.0" height="18.0" fill="#EA3730" stroke="#8A8C8F" stroke-width="1.1"/>
<text x="1706.00" y="757.80" font-size="26.4" fill="#000" class="t" stroke="#000">Severely depleted</text>
</svg>
</body>
</html>
